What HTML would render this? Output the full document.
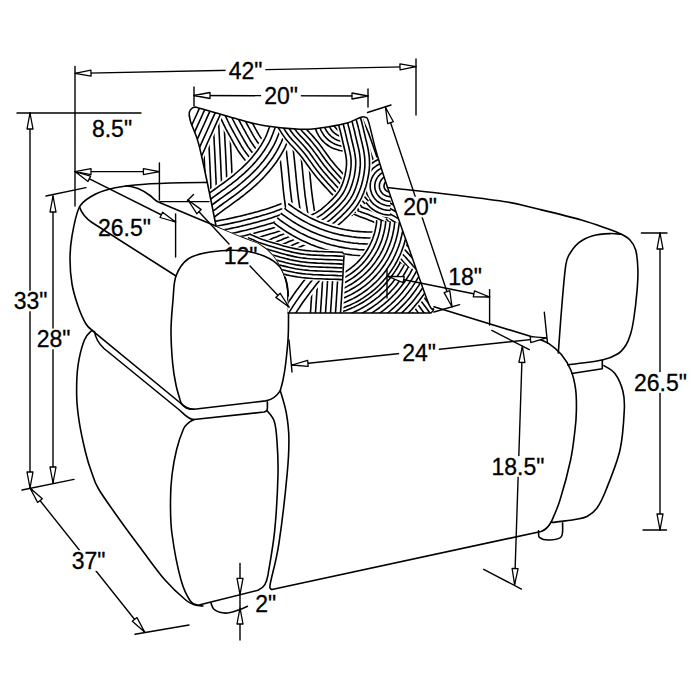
<!DOCTYPE html>
<html><head><meta charset="utf-8"><style>
html,body{margin:0;padding:0;background:#fff;}
svg{display:block;}
path{fill:none;stroke:#000;stroke-linecap:round;stroke-linejoin:round;}
path.ah{fill:#fff;stroke-width:1.3;}
path.bf{fill:#fff;stroke:none;}
path.bl{fill:none;stroke:#000;}
text{font-family:"Liberation Sans",sans-serif;text-anchor:middle;fill:#000;stroke:#000;stroke-width:0.3px;}
</style></head><body>
<svg width="700" height="700" viewBox="0 0 700 700">
<rect width="700" height="700" fill="#fff"/>
<path d="M93,331 C91.8,329.8 88.5,328.2 86,324 C83.5,319.8 80.3,312.7 78,306 C75.7,299.3 73.3,291.8 72,284 C70.7,276.2 70,267 70,259 C70,251 70.5,244.5 72,236 C73.5,227.5 75.7,214.7 79,208 C82.3,201.3 86.8,199.2 92,196 C97.2,192.8 102.8,190.8 110,189 C117.2,187.2 125,186 135,185 C145,184 157.7,183.4 170,183 C182.3,182.6 202.5,182.5 209,182.4" stroke-width="1.6"/>
<path d="M126,185.8 C137,186.5 144,191 150,195.5 C154,198.5 155.5,201.5 159.5,202.5 L200,219.5 L200,219.5 C206.7,222.2 230,231.9 240,236 C250,240.1 254.3,240.7 260,244 C265.7,247.3 270,251 274,256 C278,261 281.7,268 284,274 C286.3,280 287.2,284.3 288,292 C288.8,299.7 288.5,312 288.5,320 C288.5,328 288.5,332.5 288,340 C287.5,347.5 286.3,358.3 285.5,365 C284.7,371.7 283.9,375.7 283,380 C282.1,384.3 280.8,388.8 280.3,390.6" stroke-width="1.6"/>
<path d="M288,300 C287.8,297.3 288.3,289.5 287,284 C285.7,278.5 283.8,271.7 280,267 C276.2,262.3 270.7,258.8 264,256 C257.3,253.2 249,251.2 240,250.5 C231,249.8 218.7,250.6 210,252 C201.3,253.4 193.7,255 188,259 C182.3,263 178.5,269.2 176,276 C173.5,282.8 173.8,291 173,300 C172.2,309 171.1,319.5 171,330 C170.9,340.5 171.8,353.7 172.6,362.9 C173.4,372.1 174.6,378.3 176,385 C177.4,391.7 180.2,400 181,403" stroke-width="1.6"/>
<path d="M79.5,207 C82,214 86,218.5 92,222.5 L176,276" stroke-width="1.6"/>
<path d="M160,201.6 L209,201.6" stroke-width="1.4"/>
<path d="M92,330.3 L181,403.5 C185,407 188,409.3 194,409.3 L265.7,400.9 C271,400 276,397.4 280.3,390.6" stroke-width="1.6"/>
<path d="M181,403 C183,406.5 187,409.3 194,409.3" stroke-width="1.6"/>
<path d="M94.5,331.5 C95.5,338 98,343 104,348.5 L180,410.5 C184,414 188,419.5 194,419.5 L264,412 C266.5,411.5 267.4,410 267.4,408 L267.4,401.7" stroke-width="1.6"/>
<path d="M92,330.3 C90.7,331.9 86.7,334.1 84.4,340 C82.1,345.9 79.3,356.3 78,365.7 C76.7,375.1 76.5,387.2 76.7,396.6 C76.9,406 77.8,412.9 79.3,422.3 C80.8,431.7 83.7,444.7 85.7,453 C87.7,461.3 89.3,466 91.5,472 C93.7,478 93.9,481 98.6,489 C103.3,497 112.7,509.8 119.9,520 C127.1,530.2 134.5,540 142,550 C149.5,560 157.7,571.7 165,580 C172.3,588.3 180.7,595.8 185.7,600 C190.7,604.2 192.1,604 195,605 C197.9,606 201.7,605.8 203,606" stroke-width="1.6"/>
<path d="M194,419.5 C193.1,420.1 190.2,421.2 188.5,422.8 C186.8,424.4 185.5,424.5 183.5,429 C181.5,433.5 178.4,442.3 176.5,450 C174.6,457.7 173,466.7 172,475 C171,483.3 170.5,490.2 170.5,500 C170.5,509.8 170.2,520.7 172,534 C173.8,547.3 177.9,568.8 181,580 C184.1,591.2 187.5,596.8 190.3,601 C193.1,605.2 196.7,604.6 198,605.3 L258,590.3 C264.5,587.5 266.5,583 268,574.9 L268,574.9 C269.1,567.6 272.9,548.2 274.6,531.4 C276.3,514.6 277.6,489.5 278,474.3 C278.4,459.1 277.5,448.8 276.9,440 C276.3,431.2 275.9,426.2 274.3,421.4 C272.7,416.6 268.5,412.7 267.4,411" stroke-width="1.6"/>
<path d="M280.3,390.6 C281.3,394.3 284.9,404.9 286.3,412.9 C287.7,420.9 288.8,428.4 288.9,438.6 C289,448.8 288.8,456.9 287.1,474.3 C285.5,491.7 281.6,525.6 279,542.9 C276.4,560.2 272.8,572.1 271.5,578 C270,585 268.5,589 272,589.5" stroke-width="1.6"/>
<path d="M272,589.5 L541,531.5 C545.5,530.2 549,526 551.5,521.5" stroke-width="1.6"/>
<path d="M551.5,521.5 C552.9,517.9 556.8,510.2 560,500 C563.2,489.8 568.1,471.7 570.6,460 C573.1,448.3 574,438.3 575,430 C576,421.7 576.3,416.8 576.4,410 C576.5,403.2 576.5,395.8 575.6,389.2 C574.7,382.6 573.3,376.1 570.9,370.3 C568.5,364.5 565.1,359.1 561.4,354.6 C557.7,350.2 553.1,346.4 548.9,343.6 C544.7,340.8 538.1,338.9 536,338" stroke-width="1.6"/>
<path d="M434,306.8 L536,338" stroke-width="1.6"/>
<path d="M211,603 C211.6,604.1 211.9,608 214.3,609.7 C216.8,611.4 221.5,613.1 225.7,613.1 C229.9,613.1 235.8,610.8 239.4,609.7 C243,608.6 246.1,606.9 247.4,606.3" stroke-width="1.6"/>
<path d="M538.6,530.9 C538.8,532 537.8,536.2 539.7,537.7 C541.6,539.2 546.4,540.2 550,540 C553.6,539.8 559.3,539.5 561.4,536.6 C563.5,533.8 562.4,525.2 562.6,522.9" stroke-width="1.6"/>
<path d="M387,187.5 C389.2,187.8 389.5,187.8 400,189 C410.5,190.2 432.2,192.3 450,194.5 C467.8,196.7 492,199.5 507,202 C522,204.5 527.6,206.5 540,209.5 C552.4,212.5 570.2,216.8 581.4,220 C592.6,223.2 600.3,226.2 607,228.6 C613.7,231 617.6,232.4 621.4,234.3 C625.2,236.2 627.6,237.4 630,240 C632.4,242.6 634.4,245 635.7,250 C637,255 637.7,263.1 637.9,270 C638.1,276.9 637.7,283.1 637,291.4 C636.3,299.7 634.7,312.9 633.6,320 C632.5,327.1 631.9,329.8 630.6,334 C629.3,338.2 628.1,341.7 626,345 C623.9,348.3 622,351.3 618,353.8 C614,356.3 610.7,358.2 602.3,360 C593.9,361.8 573.5,364 567.7,364.8" stroke-width="1.6"/>
<path d="M621.4,234.3 C619.5,234.2 614.8,233.4 610,233.6 C605.2,233.8 598.1,234.1 592.9,235.7 C587.7,237.2 582.6,239.6 578.6,242.9 C574.6,246.2 570.8,251.9 568.6,255.7 C566.5,259.5 566.6,259.6 565.7,265.7 C564.8,271.8 563.8,282.9 563,292 C562.2,301.1 561.5,309.8 560.7,320 C559.9,330.2 558.7,347.5 558.3,353" stroke-width="1.6"/>
<path d="M602.3,360 L602.3,368.7 L571.7,373.5" stroke-width="1.6"/>
<path d="M603.9,365.6 C605.7,366.9 611.8,369.3 614.9,373.5 C618,377.7 621.2,384.7 622.8,390.8 C624.4,396.9 624.8,400.1 624.3,410 C623.8,419.9 623,436.7 620,450 C617,463.3 609.8,480.3 606,490 C602.2,499.7 600.2,503.6 597,508 C593.8,512.4 590.7,514.6 587,516.5 C583.3,518.4 580.8,518.5 575,519.5 C569.2,520.5 555.8,522 552,522.5" stroke-width="1.6"/>
<defs><clipPath id="pc"><path d="M189.4,116 C188.5,111 191,107.5 195.4,107 L195.4,107 C202.8,109.1 228.4,116.7 240,119.8 C251.6,122.9 255,124.1 265,125.7 C275,127.3 290.8,128.8 300,129.2 C309.2,129.6 312.5,128.9 320,128 C327.5,127.1 338.2,125.4 345,123.6 C351.8,121.8 357.6,118.2 361,117.2 C364.4,116.2 364.2,116.8 365.5,117.5 C366.8,118.2 366.6,115.6 368.5,121.5 C370.4,127.4 373.2,141.5 376.6,153 C380,164.5 383.7,176.1 388.6,190.6 C393.5,205.1 399.4,221.4 406,240 C412.6,258.6 423.4,290.5 428,302 C432.6,313.5 433,307.2 433.5,309 C434,310.8 431.4,312.3 431,313 L288,313 L288,313 C288,309.5 288.7,298.5 288,292 C287.3,285.5 286.3,280 284,274 C281.7,268 278,261 274,256 C270,251 265.7,247.3 260,244 C254.3,240.7 247.3,239 240,236 C232.7,233 220,227.7 216,226 L216,226 C214.7,219.3 210.9,199.7 208,186 C205.1,172.3 201.4,154.1 198.6,143.6 C195.8,133.1 192.5,127.6 191,123 C189.5,118.4 189.7,117.2 189.4,116 Z"/></clipPath></defs>
<g clip-path="url(#pc)"><path class="bf" d="M371.4,168.3 L370.8,170.7 L370.3,172.9 L369.8,175.4 L369.3,177.9 L368.8,180.6 L368.3,183.4 L367.6,186.2 L366.9,189.2 L366,192.2 L365,195.3 L363.7,198.4 L362.2,201.5 L360.5,204.3 L358.8,207 L357,209.6 L355,212 L353.1,214.3 L351.1,216.5 L349,218.5 L346.9,220.5 L344.9,222.4 L342.8,224.3 L340.8,226 L338.7,227.7 L336.6,229.4 L334.3,231.1 L332.1,232.6 L329.9,234.1 L327.6,235.5 L325.4,236.9 L323.1,238.2 L320.8,239.4 L318.4,240.7 L316.1,241.9 L313.7,243.1 L311.1,244.4 L308.4,245.7 L305.5,247.1 L302.5,248.4 L299.5,249.7 L296.5,251 L293.4,252.2 L290.3,253.5 L287.3,254.8 L284.2,256 L281.2,257.2 L278.3,258.5 L275.4,259.7 L264.6,234.3 L267.6,233 L270.7,231.8 L273.7,230.5 L276.8,229.2 L279.8,228 L282.8,226.8 L285.8,225.5 L288.6,224.3 L291.4,223.1 L294,221.9 L296.5,220.8 L298.9,219.6 L301.2,218.4 L303.5,217.3 L305.7,216.2 L307.7,215.1 L309.7,214 L311.5,213 L313.3,212 L314.9,210.9 L316.6,209.8 L318.1,208.7 L319.7,207.6 L321.3,206.3 L323,204.9 L324.7,203.4 L326.4,201.9 L328,200.4 L329.6,198.9 L331.1,197.4 L332.5,195.9 L333.8,194.4 L335,192.9 L336,191.4 L337,189.9 L337.8,188.5 L338.5,187.1 L339.1,185.6 L339.7,183.9 L340.2,182 L340.7,179.9 L341.2,177.6 L341.7,175.2 L342.2,172.7 L342.7,170 L343.3,167.2 L343.9,164.4 L344.6,161.7 Z"/><path class="bl" d="M369.2,167.8 L368.6,170.2 L368.1,172.5 L367.6,174.9 L367.1,177.5 L366.6,180.1 L366,182.9 L365.4,185.7 L364.7,188.6 L363.8,191.5 L362.8,194.5 L361.6,197.5 L360.2,200.4 L358.6,203.1 L356.9,205.7 L355.1,208.2 L353.3,210.5 L351.4,212.7 L349.4,214.9 L347.4,216.9 L345.4,218.9 L343.3,220.7 L341.3,222.5 L339.3,224.2 L337.3,225.9 L335.2,227.6 L333,229.2 L330.8,230.7 L328.6,232.2 L326.4,233.6 L324.2,234.9 L322,236.2 L319.7,237.4 L317.4,238.6 L315,239.8 L312.6,241 L310.1,242.3 L307.4,243.6 L304.5,245 L301.6,246.3 L298.6,247.6 L295.6,248.9 L292.5,250.1 L289.5,251.4 L286.4,252.6 L283.4,253.9 L280.3,255.1 L277.4,256.4 L274.5,257.6M364.7,166.7 L364.1,169.1 L363.6,171.5 L363.1,174 L362.6,176.6 L362,179.2 L361.5,181.9 L360.9,184.6 L360.2,187.4 L359.4,190.1 L358.5,192.9 L357.4,195.6 L356.1,198.2 L354.7,200.7 L353.1,203.1 L351.5,205.4 L349.7,207.6 L347.9,209.7 L346.1,211.7 L344.1,213.6 L342.2,215.5 L340.2,217.3 L338.3,219 L336.3,220.7 L334.4,222.4 L332.3,224 L330.3,225.5 L328.2,226.9 L326.1,228.3 L324,229.6 L321.9,230.9 L319.7,232.1 L317.5,233.3 L315.3,234.5 L312.9,235.7 L310.6,236.9 L308.1,238.2 L305.4,239.5 L302.6,240.8 L299.7,242.1 L296.8,243.3 L293.8,244.6 L290.8,245.9 L287.7,247.1 L284.7,248.4 L281.6,249.6 L278.6,250.9 L275.6,252.1 L272.7,253.4M360.2,165.6 L359.6,168.1 L359.1,170.6 L358.5,173.1 L358,175.7 L357.5,178.4 L357,181 L356.4,183.6 L355.8,186.2 L355,188.8 L354.2,191.3 L353.2,193.7 L352,196.1 L350.7,198.3 L349.3,200.5 L347.8,202.6 L346.2,204.7 L344.5,206.6 L342.7,208.5 L340.9,210.4 L339.1,212.2 L337.2,213.9 L335.3,215.6 L333.4,217.2 L331.5,218.8 L329.5,220.3 L327.6,221.8 L325.6,223.1 L323.7,224.5 L321.6,225.7 L319.6,226.9 L317.5,228.1 L315.3,229.3 L313.1,230.5 L310.8,231.6 L308.5,232.8 L306,234.1 L303.4,235.3 L300.7,236.6 L297.9,237.9 L295,239.1 L292,240.4 L289,241.6 L286,242.9 L282.9,244.1 L279.9,245.4 L276.8,246.6 L273.8,247.9 L270.9,249.1M355.8,164.4 L355.1,167 L354.6,169.6 L354,172.2 L353.5,174.9 L353,177.5 L352.5,180 L351.9,182.5 L351.3,185 L350.6,187.4 L349.9,189.7 L349,191.8 L348,193.9 L346.8,195.9 L345.5,197.9 L344.1,199.8 L342.6,201.7 L341.1,203.6 L339.4,205.4 L337.7,207.1 L335.9,208.8 L334.1,210.5 L332.3,212.1 L330.4,213.7 L328.5,215.2 L326.7,216.7 L324.9,218 L323,219.3 L321.2,220.6 L319.2,221.8 L317.3,222.9 L315.3,224.1 L313.2,225.2 L311,226.4 L308.8,227.5 L306.4,228.7 L304,229.9 L301.4,231.2 L298.8,232.4 L296,233.6 L293.2,234.9 L290.2,236.1 L287.2,237.4 L284.2,238.6 L281.2,239.9 L278.1,241.1 L275.1,242.4 L272.1,243.6 L269.1,244.9M351.3,163.3 L350.7,165.9 L350.1,168.7 L349.5,171.4 L349,174 L348.5,176.6 L348,179.1 L347.5,181.5 L346.9,183.8 L346.3,186 L345.6,188.1 L344.8,190 L343.9,191.8 L342.9,193.5 L341.7,195.3 L340.5,197.1 L339.1,198.8 L337.6,200.5 L336.1,202.2 L334.4,203.8 L332.8,205.5 L331,207.1 L329.2,208.6 L327.4,210.2 L325.6,211.6 L323.9,213 L322.2,214.3 L320.4,215.5 L318.7,216.7 L316.9,217.9 L315,219 L313,220.1 L311,221.2 L308.9,222.3 L306.7,223.4 L304.3,224.6 L301.9,225.8 L299.5,227 L296.9,228.2 L294.2,229.4 L291.4,230.7 L288.5,231.9 L285.5,233.1 L282.5,234.4 L279.4,235.6 L276.4,236.9 L273.3,238.1 L270.3,239.4 L267.3,240.6M346.8,162.2 L346.2,164.9 L345.6,167.7 L345,170.5 L344.5,173.1 L344,175.7 L343.5,178.1 L343,180.4 L342.4,182.6 L341.9,184.6 L341.3,186.4 L340.6,188.1 L339.8,189.6 L339,191.1 L337.9,192.7 L336.8,194.3 L335.5,195.9 L334.2,197.4 L332.7,199 L331.2,200.6 L329.6,202.1 L327.9,203.6 L326.2,205.1 L324.5,206.6 L322.7,208.1 L321.1,209.4 L319.5,210.6 L317.9,211.7 L316.2,212.8 L314.5,213.9 L312.7,215 L310.8,216.1 L308.8,217.1 L306.8,218.2 L304.6,219.3 L302.3,220.5 L299.9,221.7 L297.5,222.9 L295,224 L292.3,225.2 L289.5,226.4 L286.7,227.6 L283.7,228.9 L280.7,230.1 L277.7,231.4 L274.6,232.6 L271.5,233.9 L268.5,235.1 L265.5,236.4" stroke-width="1.6"/>
<path class="bf" d="M202.1,221.3 L205,220.7 L208,220.1 L211,219.5 L214,219 L217,218.4 L220,217.8 L222.9,217.3 L225.8,216.7 L228.6,216.1 L231.3,215.6 L234,215 L236.6,214.4 L239.2,213.8 L241.8,213.1 L244.4,212.5 L247,211.9 L249.5,211.2 L251.9,210.6 L254.4,209.9 L256.7,209.3 L259,208.6 L261.3,208 L263.5,207.3 L265.6,206.7 L267.5,206.1 L269.3,205.5 L271.1,204.8 L272.8,204.2 L274.5,203.6 L276.2,203 L277.8,202.3 L279.6,201.7 L281.3,201 L283.1,200.3 L284.9,199.6 L286.8,198.9 L297.2,227.1 L295.4,227.7 L293.8,228.4 L292.1,229 L290.4,229.7 L288.6,230.3 L286.8,231 L285,231.7 L283,232.4 L281,233.2 L278.9,233.9 L276.7,234.6 L274.4,235.3 L272.1,236 L269.7,236.7 L267.3,237.4 L264.8,238.1 L262.3,238.9 L259.7,239.6 L257.1,240.3 L254.4,240.9 L251.7,241.6 L248.9,242.3 L246.2,243 L243.4,243.6 L240.5,244.3 L237.6,244.9 L234.6,245.5 L231.6,246.1 L228.7,246.7 L225.7,247.3 L222.7,247.9 L219.7,248.4 L216.7,249 L213.7,249.6 L210.8,250.1 L207.9,250.7 Z"/><path class="bl" d="M202.6,223.7 L205.5,223.2 L208.5,222.6 L211.5,222 L214.5,221.4 L217.5,220.9 L220.4,220.3 L223.4,219.7 L226.2,219.2 L229.1,218.6 L231.9,218 L234.6,217.4 L237.2,216.8 L239.8,216.2 L242.4,215.6 L245,214.9 L247.6,214.3 L250.1,213.6 L252.6,213 L255,212.3 L257.4,211.7 L259.7,211 L262,210.3 L264.2,209.7 L266.3,209.1 L268.3,208.4 L270.1,207.8 L271.9,207.2 L273.7,206.6 L275.4,206 L277.1,205.3 L278.7,204.7 L280.5,204 L282.2,203.3 L284,202.7 L285.8,202 L287.7,201.3M203.5,228.6 L206.5,228.1 L209.5,227.5 L212.5,226.9 L215.4,226.3 L218.4,225.8 L221.4,225.2 L224.3,224.6 L227.2,224.1 L230.1,223.5 L232.9,222.9 L235.6,222.3 L238.3,221.7 L241,221.1 L243.6,220.4 L246.2,219.8 L248.8,219.1 L251.4,218.5 L253.9,217.8 L256.3,217.1 L258.8,216.5 L261.1,215.8 L263.4,215.1 L265.6,214.5 L267.8,213.8 L269.8,213.2 L271.7,212.6 L273.6,211.9 L275.4,211.3 L277.1,210.6 L278.8,210 L280.5,209.3 L282.3,208.7 L284,208 L285.8,207.3 L287.6,206.6 L289.4,206M204.5,233.5 L207.5,233 L210.4,232.4 L213.4,231.8 L216.4,231.2 L219.4,230.7 L222.3,230.1 L225.3,229.5 L228.2,229 L231.1,228.4 L233.9,227.8 L236.7,227.2 L239.4,226.6 L242.1,225.9 L244.8,225.3 L247.4,224.6 L250,224 L252.6,223.3 L255.2,222.6 L257.7,222 L260.1,221.3 L262.5,220.6 L264.8,219.9 L267.1,219.3 L269.3,218.6 L271.3,218 L273.3,217.3 L275.2,216.6 L277.1,216 L278.9,215.3 L280.6,214.7 L282.3,214 L284.1,213.3 L285.8,212.7 L287.5,212 L289.3,211.3 L291.1,210.7M205.5,238.5 L208.4,237.9 L211.4,237.3 L214.3,236.7 L217.3,236.2 L220.3,235.6 L223.3,235 L226.3,234.4 L229.2,233.9 L232.1,233.3 L235,232.7 L237.8,232.1 L240.6,231.4 L243.3,230.8 L246,230.2 L248.6,229.5 L251.3,228.8 L253.9,228.2 L256.5,227.5 L259,226.8 L261.5,226.1 L263.9,225.4 L266.2,224.7 L268.5,224.1 L270.7,223.4 L272.9,222.7 L274.9,222 L276.9,221.4 L278.8,220.7 L280.6,220 L282.4,219.3 L284.1,218.7 L285.9,218 L287.6,217.3 L289.3,216.7 L291.1,216 L292.9,215.3M206.5,243.4 L209.4,242.8 L212.3,242.2 L215.3,241.6 L218.3,241.1 L221.2,240.5 L224.2,239.9 L227.2,239.3 L230.2,238.8 L233.1,238.2 L236,237.6 L238.9,236.9 L241.7,236.3 L244.4,235.7 L247.2,235 L249.9,234.3 L252.5,233.7 L255.2,233 L257.8,232.3 L260.3,231.6 L262.8,230.9 L265.2,230.2 L267.6,229.5 L270,228.9 L272.2,228.2 L274.4,227.5 L276.5,226.8 L278.5,226.1 L280.5,225.4 L282.4,224.7 L284.2,224 L285.9,223.3 L287.7,222.7 L289.4,222 L291.1,221.3 L292.8,220.7 L294.6,220M207.4,248.3 L210.3,247.7 L213.3,247.1 L216.2,246.6 L219.2,246 L222.2,245.4 L225.2,244.8 L228.2,244.3 L231.2,243.7 L234.1,243.1 L237.1,242.5 L240,241.8 L242.8,241.2 L245.6,240.5 L248.3,239.9 L251.1,239.2 L253.8,238.5 L256.4,237.8 L259,237.1 L261.6,236.4 L264.1,235.7 L266.6,235 L269,234.3 L271.4,233.6 L273.7,232.9 L276,232.2 L278.1,231.5 L280.2,230.8 L282.2,230.1 L284.1,229.4 L285.9,228.7 L287.7,228 L289.5,227.3 L291.2,226.7 L292.9,226 L294.6,225.4 L296.3,224.7" stroke-width="1.6"/>
<path class="bf" d="M307.4,118.1 L307.8,121.7 L308.2,125.4 L308.6,129.1 L309,132.8 L309.4,136.6 L309.8,140.3 L310.2,144 L310.6,147.6 L311,151.1 L311.4,154.6 L311.8,157.9 L312.1,161.2 L312.4,164.3 L312.7,167.3 L313,170.2 L313.3,173 L313.6,175.7 L313.8,178.3 L314.1,180.9 L314.3,183.3 L314.6,185.8 L314.8,188.2 L315.1,190.5 L315.4,192.9 L315.7,195.2 L316,197.4 L316.3,199.6 L316.6,201.8 L316.9,204 L317.3,206.1 L317.6,208.3 L317.9,210.5 L318.3,212.7 L318.6,214.9 L319,217.1 L319.3,219.4 L284.7,224.6 L284.4,222.4 L284,220.2 L283.7,218.1 L283.4,215.9 L283,213.7 L282.7,211.5 L282.3,209.2 L282,206.9 L281.6,204.6 L281.3,202.2 L281,199.7 L280.6,197.1 L280.3,194.6 L280,192 L279.8,189.4 L279.5,186.9 L279.2,184.3 L279,181.7 L278.7,179.1 L278.5,176.4 L278.2,173.6 L277.9,170.8 L277.6,167.9 L277.3,164.8 L277,161.7 L276.6,158.4 L276.2,154.9 L275.8,151.4 L275.4,147.8 L275,144.1 L274.6,140.4 L274.2,136.7 L273.8,132.9 L273.4,129.2 L273,125.5 L272.6,121.9 Z"/><path class="bl" d="M303.9,118.5 L304.3,122.1 L304.7,125.8 L305.1,129.5 L305.5,133.2 L305.9,136.9 L306.4,140.7 L306.8,144.3 L307.2,148 L307.5,151.5 L307.9,155 L308.3,158.3 L308.6,161.5 L308.9,164.6 L309.3,167.6 L309.5,170.5 L309.8,173.3 L310.1,176 L310.3,178.6 L310.6,181.2 L310.8,183.7 L311.1,186.1 L311.3,188.5 L311.6,190.9 L311.9,193.3 L312.2,195.6 L312.5,197.9 L312.8,200.1 L313.1,202.3 L313.5,204.5 L313.8,206.7 L314.1,208.8 L314.5,211 L314.8,213.2 L315.2,215.4 L315.5,217.7 L315.8,219.9M297,119.2 L297.4,122.9 L297.8,126.5 L298.2,130.2 L298.6,134 L299,137.7 L299.4,141.4 L299.8,145.1 L300.2,148.7 L300.6,152.3 L301,155.7 L301.3,159.1 L301.7,162.3 L302,165.3 L302.3,168.3 L302.6,171.2 L302.8,174 L303.1,176.7 L303.4,179.3 L303.6,181.9 L303.9,184.4 L304.1,186.9 L304.4,189.3 L304.7,191.7 L304.9,194.1 L305.2,196.5 L305.6,198.8 L305.9,201.1 L306.2,203.3 L306.5,205.6 L306.9,207.7 L307.2,209.9 L307.6,212.1 L307.9,214.3 L308.2,216.5 L308.6,218.7 L308.9,221M290,120 L290.4,123.6 L290.8,127.3 L291.2,131 L291.6,134.7 L292,138.5 L292.4,142.2 L292.8,145.9 L293.2,149.5 L293.6,153 L294,156.5 L294.4,159.8 L294.7,163 L295,166.1 L295.3,169 L295.6,171.9 L295.9,174.7 L296.1,177.4 L296.4,180 L296.6,182.6 L296.9,185.1 L297.2,187.6 L297.4,190.1 L297.7,192.5 L298,195 L298.3,197.4 L298.6,199.8 L299,202.1 L299.3,204.4 L299.6,206.6 L300,208.8 L300.3,211 L300.6,213.2 L301,215.4 L301.3,217.6 L301.7,219.8 L302,222M283,120.8 L283.4,124.4 L283.8,128.1 L284.2,131.8 L284.7,135.5 L285.1,139.2 L285.5,143 L285.9,146.6 L286.3,150.2 L286.7,153.8 L287,157.2 L287.4,160.6 L287.7,163.7 L288.1,166.8 L288.4,169.7 L288.6,172.6 L288.9,175.3 L289.2,178 L289.4,180.7 L289.7,183.3 L289.9,185.8 L290.2,188.3 L290.5,190.9 L290.8,193.4 L291.1,195.9 L291.4,198.3 L291.7,200.7 L292,203.1 L292.4,205.4 L292.7,207.7 L293,209.9 L293.4,212.1 L293.7,214.3 L294.1,216.4 L294.4,218.6 L294.7,220.8 L295.1,223M276.1,121.5 L276.5,125.1 L276.9,128.8 L277.3,132.5 L277.7,136.3 L278.1,140 L278.5,143.7 L278.9,147.4 L279.3,151 L279.7,154.5 L280.1,158 L280.4,161.3 L280.8,164.5 L281.1,167.5 L281.4,170.4 L281.7,173.3 L281.9,176 L282.2,178.7 L282.5,181.4 L282.7,184 L283,186.5 L283.2,189.1 L283.5,191.6 L283.8,194.2 L284.1,196.7 L284.4,199.2 L284.8,201.7 L285.1,204.1 L285.4,206.4 L285.8,208.7 L286.1,211 L286.5,213.2 L286.8,215.4 L287.2,217.5 L287.5,219.7 L287.8,221.9 L288.2,224.1" stroke-width="1.6"/>
<path class="bf" d="M349.4,124.8 L349,125 L348.7,125.1 L348.4,125.3 L348,125.4 L347.7,125.5 L347.3,125.6 L346.9,125.6 L346.6,125.7 L346.2,125.7 L345.9,125.7 L345.5,125.7 L345.1,125.6 L344.8,125.6 L344.4,125.5 L344.1,125.4 L343.7,125.3 L343.4,125.2 L343,125 L342.7,124.8 L342.4,124.7 L342.1,124.4 L341.8,124.2 L341.5,124 L341.3,123.7 L341,123.5 L340.8,123.2 L340.6,122.9 L340.3,122.6 L340.2,122.3 L340,122 L339.8,121.6 L339.7,121.3 L339.6,120.9 L339.5,120.6 L339.4,120.2 L339.4,119.9 L339.3,119.5 L339.3,119.1 L339.3,118.8 L339.3,118.4 L311.8,116 L311.7,117.9 L311.7,119.7 L311.8,121.6 L312,123.5 L312.3,125.3 L312.7,127.2 L313.2,129 L313.8,130.7 L314.5,132.5 L315.2,134.2 L316.1,135.8 L317.1,137.4 L318.1,139 L319.2,140.5 L320.5,141.9 L321.7,143.3 L323.1,144.5 L324.5,145.8 L326,146.9 L327.6,147.9 L329.2,148.9 L330.8,149.8 L332.5,150.5 L334.3,151.2 L336,151.8 L337.8,152.3 L339.7,152.7 L341.5,153 L343.4,153.2 L345.3,153.3 L347.1,153.3 L349,153.2 L350.8,153 L352.7,152.6 L354.5,152.2 L356.3,151.7 L358.1,151.1 L359.8,150.4 L361.5,149.6 L363.1,148.7 Z"/><path class="bl" d="M350.5,126.8 L350.1,127 L349.6,127.2 L349.2,127.4 L348.7,127.6 L348.2,127.7 L347.8,127.8 L347.3,127.9 L346.8,128 L346.3,128 L345.8,128 L345.3,128 L344.8,127.9 L344.3,127.8 L343.9,127.7 L343.4,127.6 L342.9,127.5 L342.5,127.3 L342,127.1 L341.6,126.8 L341.2,126.6 L340.8,126.3 L340.4,126 L340,125.7 L339.6,125.4 L339.3,125 L339,124.6 L338.7,124.2 L338.4,123.8 L338.2,123.4 L337.9,123 L337.7,122.5 L337.5,122.1 L337.4,121.6 L337.3,121.1 L337.2,120.7 L337.1,120.2 L337,119.7 L337,119.2 L337,118.7 L337,118.2M352.8,130.8 L352.1,131.1 L351.5,131.4 L350.8,131.7 L350.1,132 L349.4,132.2 L348.7,132.3 L347.9,132.5 L347.2,132.5 L346.4,132.6 L345.7,132.6 L345,132.6 L344.2,132.5 L343.5,132.4 L342.8,132.2 L342.1,132 L341.3,131.8 L340.7,131.5 L340,131.2 L339.3,130.9 L338.7,130.5 L338.1,130.1 L337.5,129.6 L336.9,129.1 L336.4,128.6 L335.9,128.1 L335.4,127.5 L334.9,126.9 L334.5,126.3 L334.1,125.7 L333.8,125 L333.5,124.3 L333.2,123.7 L333,122.9 L332.8,122.2 L332.6,121.5 L332.5,120.8 L332.4,120 L332.4,119.3 L332.4,118.6 L332.5,117.8M355.1,134.8 L354.2,135.2 L353.3,135.7 L352.4,136 L351.5,136.4 L350.5,136.6 L349.6,136.9 L348.6,137 L347.6,137.1 L346.6,137.2 L345.6,137.2 L344.6,137.1 L343.6,137 L342.6,136.9 L341.7,136.7 L340.7,136.4 L339.8,136.1 L338.9,135.7 L338,135.3 L337.1,134.9 L336.2,134.3 L335.4,133.8 L334.6,133.2 L333.9,132.6 L333.1,131.9 L332.4,131.1 L331.8,130.4 L331.2,129.6 L330.7,128.8 L330.1,127.9 L329.7,127 L329.3,126.1 L328.9,125.2 L328.6,124.3 L328.3,123.3 L328.1,122.4 L328,121.4 L327.9,120.4 L327.8,119.4 L327.8,118.4 L327.9,117.4M357.4,138.7 L356.3,139.3 L355.2,139.9 L354,140.3 L352.9,140.7 L351.7,141.1 L350.4,141.4 L349.2,141.6 L348,141.7 L346.7,141.8 L345.5,141.8 L344.3,141.7 L343,141.6 L341.8,141.4 L340.6,141.1 L339.4,140.8 L338.2,140.4 L337,140 L335.9,139.4 L334.8,138.9 L333.7,138.2 L332.7,137.5 L331.7,136.8 L330.8,136 L329.9,135.1 L329,134.2 L328.2,133.3 L327.5,132.3 L326.8,131.3 L326.1,130.2 L325.6,129.1 L325,128 L324.6,126.8 L324.2,125.6 L323.9,124.4 L323.6,123.2 L323.4,122 L323.3,120.7 L323.2,119.5 L323.2,118.3 L323.3,117M359.7,142.7 L358.4,143.4 L357,144.1 L355.7,144.6 L354.2,145.1 L352.8,145.5 L351.3,145.9 L349.9,146.1 L348.4,146.3 L346.9,146.4 L345.4,146.4 L343.9,146.3 L342.4,146.2 L340.9,145.9 L339.5,145.6 L338,145.2 L336.6,144.7 L335.2,144.2 L333.9,143.6 L332.6,142.9 L331.3,142.1 L330,141.3 L328.8,140.4 L327.7,139.4 L326.6,138.4 L325.6,137.3 L324.6,136.2 L323.7,135 L322.9,133.7 L322.1,132.4 L321.4,131.1 L320.8,129.8 L320.3,128.4 L319.8,127 L319.4,125.5 L319.1,124.1 L318.8,122.6 L318.7,121.1 L318.6,119.6 L318.6,118.1 L318.7,116.6M362,146.7 L360.5,147.5 L358.9,148.3 L357.3,148.9 L355.6,149.5 L353.9,150 L352.2,150.4 L350.5,150.7 L348.8,150.9 L347,151 L345.3,151 L343.6,150.9 L341.8,150.7 L340.1,150.5 L338.4,150.1 L336.7,149.6 L335.1,149.1 L333.4,148.4 L331.8,147.7 L330.3,146.9 L328.8,146 L327.4,145 L326,144 L324.6,142.8 L323.4,141.6 L322.2,140.4 L321,139 L320,137.6 L319,136.2 L318.1,134.7 L317.3,133.2 L316.6,131.6 L315.9,129.9 L315.4,128.3 L314.9,126.6 L314.5,124.9 L314.3,123.2 L314.1,121.4 L314,119.7 L314,118 L314.1,116.2" stroke-width="1.6"/>
<path class="bf" d="M355.3,186.6 L358.1,187.7 L361,188.8 L363.9,189.9 L366.9,191 L369.9,192.1 L372.9,193.3 L376,194.5 L379.1,195.7 L382.1,196.9 L385.2,198.2 L388.3,199.6 L391.4,201.1 L394.4,202.6 L397.3,204.2 L400.1,205.7 L402.8,207.4 L405.4,209 L408,210.6 L410.5,212.1 L412.9,213.7 L415.4,215.3 L417.7,216.8 L420.1,218.2 L422.5,219.7 L407.5,244.3 L405,242.7 L402.4,241.1 L399.9,239.6 L397.4,238 L395,236.4 L392.6,234.9 L390.3,233.5 L388,232.1 L385.6,230.7 L383.3,229.4 L381,228.1 L378.6,226.9 L376.2,225.8 L373.7,224.6 L371.1,223.5 L368.3,222.4 L365.6,221.3 L362.7,220.2 L359.8,219.1 L356.8,218 L353.8,216.9 L350.8,215.8 L347.7,214.6 L344.7,213.4 Z"/><path class="bl" d="M354.4,188.8 L357.3,190 L360.1,191.1 L363.1,192.2 L366,193.3 L369,194.4 L372.1,195.5 L375.1,196.7 L378.2,197.9 L381.2,199.1 L384.3,200.4 L387.3,201.8 L390.3,203.2 L393.2,204.7 L396.1,206.3 L398.9,207.8 L401.5,209.4 L404.2,211 L406.7,212.6 L409.2,214.2 L411.6,215.7 L414.1,217.3 L416.4,218.8 L418.8,220.3 L421.2,221.8M352.6,193.3 L355.5,194.4 L358.4,195.6 L361.4,196.7 L364.4,197.8 L367.4,198.9 L370.4,200 L373.4,201.2 L376.4,202.4 L379.4,203.6 L382.3,204.8 L385.3,206.2 L388.2,207.5 L391,209 L393.8,210.5 L396.5,212 L399.1,213.5 L401.6,215.1 L404.1,216.7 L406.6,218.2 L409.1,219.8 L411.5,221.3 L413.9,222.9 L416.3,224.4 L418.7,225.9M350.9,197.8 L353.8,198.9 L356.7,200 L359.7,201.2 L362.7,202.3 L365.7,203.4 L368.7,204.5 L371.6,205.6 L374.6,206.8 L377.5,208 L380.4,209.2 L383.3,210.5 L386.1,211.8 L388.8,213.2 L391.4,214.7 L394.1,216.1 L396.6,217.6 L399.1,219.2 L401.6,220.7 L404,222.3 L406.5,223.8 L408.9,225.4 L411.3,226.9 L413.8,228.4 L416.2,230M349.1,202.2 L352.1,203.4 L355,204.5 L358,205.7 L361,206.8 L364,207.9 L367,209 L369.9,210.1 L372.8,211.3 L375.7,212.4 L378.5,213.6 L381.3,214.9 L383.9,216.2 L386.6,217.5 L389.1,218.9 L391.7,220.3 L394.1,221.8 L396.6,223.3 L399,224.8 L401.5,226.3 L403.9,227.9 L406.3,229.4 L408.8,231 L411.3,232.5 L413.8,234M347.4,206.7 L350.3,207.9 L353.3,209 L356.3,210.1 L359.3,211.3 L362.3,212.4 L365.3,213.5 L368.2,214.6 L371,215.7 L373.8,216.9 L376.6,218 L379.2,219.2 L381.8,220.5 L384.3,221.7 L386.8,223.1 L389.3,224.5 L391.7,225.9 L394.1,227.3 L396.5,228.8 L398.9,230.4 L401.3,231.9 L403.8,233.5 L406.2,235 L408.7,236.6 L411.3,238.1M345.6,211.2 L348.6,212.3 L351.6,213.5 L354.7,214.6 L357.7,215.8 L360.6,216.9 L363.6,218 L366.4,219.1 L369.2,220.2 L372,221.3 L374.6,222.4 L377.2,223.6 L379.7,224.8 L382.1,226 L384.5,227.3 L386.8,228.6 L389.2,230 L391.6,231.4 L393.9,232.9 L396.3,234.4 L398.7,236 L401.2,237.5 L403.7,239.1 L406.2,240.7 L408.8,242.2" stroke-width="1.6"/>
<path class="bf" d="M358.2,104.3 L359.2,106.5 L360.2,108.8 L361.2,111 L362.3,113.2 L363.3,115.4 L364.3,117.7 L365.3,120 L366.4,122.3 L367.4,124.6 L368.4,126.9 L369.4,129.3 L370.4,131.7 L371.3,134.1 L372.3,136.6 L373.2,139.2 L374.1,141.7 L374.9,144.2 L375.8,146.7 L376.6,149.2 L377.4,151.5 L378.2,153.8 L378.9,155.9 L379.7,157.9 L380.4,159.7 L381,161.3 L381.7,162.9 L382.3,164.3 L383,165.7 L383.6,166.9 L384.2,168.2 L384.8,169.4 L385.4,170.7 L386.1,172 L386.8,173.3 L387.4,174.7 L388.1,176.1 L371.9,183.9 L371.2,182.5 L370.6,181.3 L370,180 L369.4,178.8 L368.7,177.5 L368.1,176.2 L367.4,174.8 L366.7,173.3 L365.9,171.7 L365.2,170.1 L364.4,168.3 L363.6,166.3 L362.8,164.2 L362,162 L361.2,159.7 L360.4,157.4 L359.6,155 L358.7,152.5 L357.9,150.1 L357.1,147.6 L356.2,145.2 L355.4,142.8 L354.5,140.5 L353.6,138.3 L352.8,136.2 L351.8,134 L350.9,131.8 L349.9,129.6 L348.9,127.4 L347.9,125.2 L346.9,122.9 L345.9,120.7 L344.9,118.5 L343.8,116.2 L342.8,113.9 L341.8,111.7 Z"/><path class="bl" d="M356.2,105.2 L357.2,107.5 L358.2,109.7 L359.2,111.9 L360.2,114.1 L361.2,116.4 L362.3,118.6 L363.3,120.9 L364.3,123.2 L365.3,125.5 L366.3,127.8 L367.3,130.1 L368.3,132.5 L369.2,134.9 L370.1,137.4 L371,139.9 L371.9,142.5 L372.8,145 L373.6,147.5 L374.5,149.9 L375.3,152.3 L376.1,154.5 L376.8,156.7 L377.6,158.7 L378.3,160.5 L379,162.2 L379.6,163.8 L380.3,165.2 L380.9,166.6 L381.6,167.9 L382.2,169.2 L382.8,170.4 L383.4,171.7 L384.1,173 L384.7,174.3 L385.4,175.7 L386.1,177.1M352.1,107.1 L353.1,109.3 L354.1,111.6 L355.1,113.8 L356.1,116 L357.1,118.3 L358.2,120.5 L359.2,122.8 L360.2,125 L361.2,127.3 L362.2,129.6 L363.1,131.9 L364.1,134.2 L365,136.5 L365.9,139 L366.8,141.4 L367.7,143.9 L368.5,146.4 L369.4,148.9 L370.2,151.3 L371,153.7 L371.8,156 L372.6,158.2 L373.3,160.3 L374.1,162.2 L374.8,163.9 L375.5,165.6 L376.2,167.1 L376.9,168.5 L377.5,169.9 L378.1,171.2 L378.8,172.5 L379.4,173.7 L380.1,175 L380.7,176.3 L381.4,177.6 L382,179M347.9,108.9 L349,111.2 L350,113.4 L351,115.7 L352,117.9 L353.1,120.1 L354.1,122.4 L355.1,124.6 L356.1,126.8 L357.1,129.1 L358,131.3 L359,133.6 L359.9,135.8 L360.8,138.1 L361.7,140.5 L362.6,142.9 L363.4,145.4 L364.3,147.9 L365.1,150.3 L365.9,152.8 L366.8,155.2 L367.6,157.5 L368.4,159.7 L369.1,161.8 L369.9,163.8 L370.7,165.7 L371.4,167.4 L372.1,169 L372.8,170.4 L373.4,171.8 L374.1,173.2 L374.8,174.5 L375.4,175.8 L376,177 L376.7,178.3 L377.3,179.6 L378,181M343.8,110.8 L344.9,113 L345.9,115.3 L346.9,117.5 L347.9,119.8 L349,122 L350,124.2 L351,126.5 L352,128.7 L353,130.9 L353.9,133.1 L354.8,135.3 L355.7,137.5 L356.6,139.7 L357.5,142.1 L358.3,144.4 L359.2,146.9 L360,149.3 L360.9,151.8 L361.7,154.2 L362.5,156.6 L363.3,159 L364.1,161.3 L364.9,163.4 L365.7,165.5 L366.5,167.4 L367.3,169.2 L368,170.8 L368.7,172.4 L369.4,173.8 L370.1,175.2 L370.7,176.5 L371.4,177.8 L372,179 L372.6,180.3 L373.3,181.6 L373.9,182.9" stroke-width="1.6"/>
<path class="bf" d="M390,189.7 L389.7,189.7 L389.4,189.7 L389.1,189.6 L388.9,189.5 L388.6,189.4 L388.3,189.3 L388.1,189.2 L387.8,189 L387.6,188.8 L387.4,188.6 L387.2,188.4 L387,188.2 L386.8,187.9 L386.7,187.7 L386.6,187.4 L386.5,187.1 L386.4,186.9 L386.3,186.6 L386.3,186.3 L386.3,186 L386.3,185.7 L386.3,185.4 L386.4,185.1 L386.5,184.9 L386.6,184.6 L386.7,184.3 L386.8,184.1 L387,183.8 L387.2,183.6 L387.4,183.4 L387.6,183.2 L387.8,183 L388.1,182.8 L388.3,182.7 L388.6,182.6 L388.9,182.5 L389.1,182.4 L389.4,182.3 L389.7,182.3 L390,182.3 L390,154.7 L387.5,154.8 L385.1,155.1 L382.7,155.6 L380.3,156.2 L378,157.1 L375.8,158.1 L373.6,159.3 L371.6,160.7 L369.7,162.2 L367.9,163.9 L366.2,165.7 L364.7,167.6 L363.3,169.6 L362.1,171.8 L361.1,174 L360.2,176.3 L359.6,178.7 L359.1,181.1 L358.8,183.5 L358.7,186 L358.8,188.5 L359.1,190.9 L359.6,193.3 L360.2,195.7 L361.1,198 L362.1,200.2 L363.3,202.4 L364.7,204.4 L366.2,206.3 L367.9,208.1 L369.7,209.8 L371.6,211.3 L373.6,212.7 L375.8,213.9 L378,214.9 L380.3,215.8 L382.7,216.4 L385.1,216.9 L387.5,217.2 L390,217.3 Z"/><path class="bl" d="M390,192 L389.5,192 L389.1,191.9 L388.6,191.8 L388.1,191.7 L387.7,191.5 L387.3,191.3 L386.9,191.1 L386.5,190.9 L386.1,190.6 L385.8,190.2 L385.4,189.9 L385.1,189.5 L384.9,189.1 L384.7,188.7 L384.5,188.3 L384.3,187.9 L384.2,187.4 L384.1,186.9 L384,186.5 L384,186 L384,185.5 L384.1,185.1 L384.2,184.6 L384.3,184.1 L384.5,183.7 L384.7,183.3 L384.9,182.9 L385.1,182.5 L385.4,182.1 L385.8,181.8 L386.1,181.4 L386.5,181.1 L386.9,180.9 L387.3,180.7 L387.7,180.5 L388.1,180.3 L388.6,180.2 L389.1,180.1 L389.5,180 L390,180M390,196.6 L389.2,196.6 L388.3,196.5 L387.5,196.3 L386.7,196.1 L385.9,195.8 L385.2,195.4 L384.5,195 L383.8,194.6 L383.1,194.1 L382.5,193.5 L381.9,192.9 L381.4,192.2 L381,191.5 L380.6,190.8 L380.2,190.1 L379.9,189.3 L379.7,188.5 L379.5,187.7 L379.4,186.8 L379.4,186 L379.4,185.2 L379.5,184.3 L379.7,183.5 L379.9,182.7 L380.2,181.9 L380.6,181.2 L381,180.5 L381.4,179.8 L381.9,179.1 L382.5,178.5 L383.1,177.9 L383.8,177.4 L384.5,177 L385.2,176.6 L385.9,176.2 L386.7,175.9 L387.5,175.7 L388.3,175.5 L389.2,175.4 L390,175.4M390,201.2 L388.8,201.2 L387.6,201 L386.5,200.8 L385.3,200.5 L384.2,200 L383.1,199.5 L382.1,199 L381.1,198.3 L380.1,197.6 L379.3,196.7 L378.4,195.9 L377.7,194.9 L377,193.9 L376.5,192.9 L376,191.8 L375.5,190.7 L375.2,189.5 L375,188.4 L374.8,187.2 L374.8,186 L374.8,184.8 L375,183.6 L375.2,182.5 L375.5,181.3 L376,180.2 L376.5,179.1 L377,178.1 L377.7,177.1 L378.4,176.1 L379.3,175.3 L380.1,174.4 L381.1,173.7 L382.1,173 L383.1,172.5 L384.2,172 L385.3,171.5 L386.5,171.2 L387.6,171 L388.8,170.8 L390,170.8M390,205.8 L388.4,205.7 L386.9,205.6 L385.4,205.3 L383.9,204.8 L382.4,204.3 L381,203.6 L379.7,202.9 L378.4,202 L377.1,201.1 L376,200 L374.9,198.9 L374,197.6 L373.1,196.3 L372.4,195 L371.7,193.6 L371.2,192.1 L370.7,190.6 L370.4,189.1 L370.3,187.6 L370.2,186 L370.3,184.4 L370.4,182.9 L370.7,181.4 L371.2,179.9 L371.7,178.4 L372.4,177 L373.1,175.7 L374,174.4 L374.9,173.1 L376,172 L377.1,170.9 L378.4,170 L379.7,169.1 L381,168.4 L382.4,167.7 L383.9,167.2 L385.4,166.7 L386.9,166.4 L388.4,166.3 L390,166.2M390,210.4 L388.1,210.3 L386.2,210.1 L384.3,209.7 L382.5,209.2 L380.7,208.5 L378.9,207.7 L377.3,206.8 L375.7,205.7 L374.2,204.6 L372.7,203.3 L371.4,201.8 L370.3,200.3 L369.2,198.7 L368.3,197.1 L367.5,195.3 L366.8,193.5 L366.3,191.7 L365.9,189.8 L365.7,187.9 L365.6,186 L365.7,184.1 L365.9,182.2 L366.3,180.3 L366.8,178.5 L367.5,176.7 L368.3,174.9 L369.2,173.3 L370.3,171.7 L371.4,170.2 L372.7,168.7 L374.2,167.4 L375.7,166.3 L377.3,165.2 L378.9,164.3 L380.7,163.5 L382.5,162.8 L384.3,162.3 L386.2,161.9 L388.1,161.7 L390,161.6M390,215 L387.7,214.9 L385.5,214.6 L383.2,214.2 L381,213.6 L378.9,212.8 L376.8,211.8 L374.8,210.7 L373,209.5 L371.2,208.1 L369.5,206.5 L367.9,204.8 L366.5,203 L365.3,201.2 L364.2,199.2 L363.2,197.1 L362.4,195 L361.8,192.8 L361.4,190.5 L361.1,188.3 L361,186 L361.1,183.7 L361.4,181.5 L361.8,179.2 L362.4,177 L363.2,174.9 L364.2,172.8 L365.3,170.8 L366.5,169 L367.9,167.2 L369.5,165.5 L371.2,163.9 L373,162.5 L374.8,161.3 L376.8,160.2 L378.9,159.2 L381,158.4 L383.2,157.8 L385.5,157.4 L387.7,157.1 L390,157" stroke-width="1.6"/>
<path class="bf" d="M387.9,217.7 L390,219.7 L392.1,221.6 L394.2,223.6 L396.3,225.5 L398.4,227.5 L400.5,229.5 L402.6,231.5 L404.8,233.6 L406.9,235.6 L409.1,237.7 L411.2,239.9 L413.3,242 L415.4,244.2 L417.4,246.5 L419.4,248.7 L421.4,250.9 L423.4,253.1 L425.3,255.3 L427.2,257.6 L429.1,259.8 L431,261.9 L432.9,264.1 L434.7,266.3 L436.6,268.4 L419.4,283.6 L417.4,281.4 L415.5,279.2 L413.6,277 L411.7,274.8 L409.8,272.6 L407.9,270.4 L406.1,268.3 L404.2,266.1 L402.3,264 L400.5,262 L398.6,260 L396.7,258 L394.8,256 L392.8,254 L390.9,252.1 L388.8,250.1 L386.8,248.2 L384.7,246.2 L382.7,244.3 L380.6,242.3 L378.4,240.3 L376.3,238.4 L374.2,236.3 L372.1,234.3 Z"/><path class="bl" d="M386.4,219.3 L388.4,221.3 L390.5,223.3 L392.6,225.2 L394.7,227.2 L396.8,229.2 L398.9,231.2 L401.1,233.2 L403.2,235.2 L405.3,237.3 L407.4,239.4 L409.5,241.5 L411.6,243.6 L413.7,245.8 L415.7,248 L417.7,250.2 L419.7,252.4 L421.7,254.6 L423.6,256.8 L425.5,259.1 L427.4,261.3 L429.3,263.4 L431.1,265.6 L433,267.8 L434.9,269.9M383.2,222.7 L385.3,224.7 L387.3,226.6 L389.4,228.6 L391.5,230.6 L393.7,232.5 L395.8,234.5 L397.9,236.5 L400,238.5 L402.1,240.6 L404.2,242.6 L406.3,244.7 L408.3,246.8 L410.3,249 L412.3,251.1 L414.3,253.3 L416.3,255.5 L418.2,257.7 L420.1,259.9 L422,262.1 L423.9,264.3 L425.8,266.4 L427.7,268.6 L429.6,270.8 L431.5,273M380,226 L382.1,228 L384.2,230 L386.3,232 L388.4,233.9 L390.5,235.9 L392.6,237.9 L394.7,239.9 L396.8,241.9 L398.9,243.9 L400.9,245.9 L403,247.9 L405,250 L407,252.1 L408.9,254.2 L410.9,256.4 L412.8,258.5 L414.7,260.7 L416.6,262.9 L418.5,265.1 L420.4,267.3 L422.3,269.5 L424.2,271.6 L426.1,273.8 L428,276M376.8,229.3 L378.9,231.3 L381,233.3 L383.2,235.3 L385.3,237.3 L387.4,239.3 L389.5,241.2 L391.6,243.2 L393.6,245.2 L395.7,247.2 L397.7,249.1 L399.7,251.2 L401.7,253.2 L403.6,255.2 L405.6,257.3 L407.5,259.4 L409.4,261.6 L411.3,263.7 L413.1,265.9 L415,268.1 L416.9,270.3 L418.8,272.5 L420.7,274.7 L422.6,276.9 L424.5,279M373.6,232.7 L375.8,234.7 L377.9,236.7 L380,238.7 L382.1,240.6 L384.2,242.6 L386.3,244.6 L388.4,246.5 L390.4,248.5 L392.5,250.4 L394.5,252.4 L396.4,254.4 L398.4,256.4 L400.3,258.4 L402.2,260.4 L404,262.5 L405.9,264.6 L407.8,266.7 L409.7,268.9 L411.6,271.1 L413.4,273.3 L415.3,275.5 L417.2,277.7 L419.2,279.9 L421.1,282.1" stroke-width="1.6"/>
<path class="bf" d="M384.9,244.9 L387.4,247.4 L389.8,249.7 L392.3,252.1 L394.9,254.6 L397.4,257 L400,259.5 L402.7,262.1 L405.3,264.7 L408,267.4 L410.6,270.1 L413.2,273 L415.8,275.9 L418.4,278.9 L420.9,281.9 L423.3,284.9 L425.6,287.9 L427.8,290.8 L430,293.8 L432.2,296.7 L434.3,299.7 L436.4,302.5 L438.5,305.3 L440.6,308.1 L442.7,310.9 L413.3,333.1 L411.1,330.2 L408.9,327.2 L406.8,324.3 L404.6,321.4 L402.5,318.5 L400.5,315.7 L398.4,312.9 L396.4,310.2 L394.3,307.6 L392.3,305 L390.2,302.5 L388.2,300.1 L386,297.8 L383.9,295.4 L381.6,293.1 L379.3,290.7 L376.9,288.3 L374.5,286 L372,283.6 L369.4,281.1 L366.9,278.7 L364.2,276.2 L361.6,273.6 L359.1,271.1 Z"/><path class="bl" d="M383.3,246.6 L385.8,249 L388.2,251.4 L390.7,253.8 L393.3,256.2 L395.9,258.7 L398.4,261.2 L401.1,263.7 L403.7,266.3 L406.3,269 L408.9,271.7 L411.5,274.5 L414.1,277.4 L416.6,280.3 L419.1,283.3 L421.4,286.3 L423.7,289.3 L426,292.2 L428.2,295.2 L430.4,298.1 L432.5,301 L434.6,303.9 L436.7,306.7 L438.7,309.5 L440.8,312.3M380.1,249.8 L382.6,252.3 L385,254.7 L387.6,257.1 L390.1,259.5 L392.7,262 L395.2,264.5 L397.8,267 L400.4,269.6 L403,272.2 L405.6,274.9 L408.1,277.6 L410.7,280.4 L413.1,283.3 L415.5,286.2 L417.8,289.1 L420.1,292 L422.3,295 L424.5,297.9 L426.6,300.8 L428.8,303.7 L430.9,306.6 L433,309.4 L435,312.3 L437.2,315.1M376.9,253.1 L379.3,255.6 L381.8,258 L384.4,260.4 L386.9,262.9 L389.5,265.3 L392,267.8 L394.6,270.3 L397.2,272.8 L399.7,275.4 L402.2,278 L404.7,280.7 L407.2,283.5 L409.6,286.3 L411.9,289.1 L414.2,292 L416.4,294.8 L418.6,297.7 L420.8,300.6 L422.9,303.5 L425.1,306.4 L427.2,309.3 L429.3,312.2 L431.4,315 L433.5,317.8M373.6,256.4 L376.1,258.8 L378.6,261.3 L381.2,263.7 L383.7,266.2 L386.3,268.6 L388.8,271.1 L391.4,273.6 L393.9,276.1 L396.4,278.6 L398.9,281.2 L401.3,283.8 L403.7,286.5 L406.1,289.2 L408.4,292 L410.6,294.8 L412.8,297.6 L415,300.5 L417.1,303.4 L419.2,306.3 L421.3,309.2 L423.4,312 L425.6,314.9 L427.7,317.8 L429.8,320.6M370.4,259.6 L372.9,262.1 L375.4,264.6 L378,267.1 L380.6,269.5 L383.1,272 L385.7,274.4 L388.2,276.9 L390.7,279.3 L393.1,281.8 L395.6,284.3 L397.9,286.9 L400.3,289.5 L402.5,292.2 L404.8,294.9 L407,297.6 L409.1,300.4 L411.3,303.3 L413.4,306.1 L415.5,309 L417.6,311.9 L419.7,314.8 L421.9,317.7 L424,320.5 L426.2,323.4M367.1,262.9 L369.7,265.4 L372.2,267.9 L374.8,270.4 L377.4,272.8 L379.9,275.3 L382.5,277.7 L384.9,280.1 L387.4,282.6 L389.8,285 L392.2,287.5 L394.5,290 L396.8,292.5 L399,295.1 L401.2,297.8 L403.4,300.5 L405.5,303.2 L407.6,306 L409.7,308.9 L411.8,311.7 L413.9,314.6 L416,317.5 L418.2,320.4 L420.3,323.3 L422.5,326.2M363.9,266.2 L366.5,268.7 L369,271.2 L371.6,273.7 L374.2,276.2 L376.7,278.6 L379.3,281 L381.7,283.4 L384.2,285.8 L386.5,288.2 L388.9,290.7 L391.1,293.1 L393.3,295.6 L395.5,298.1 L397.6,300.7 L399.7,303.3 L401.8,306 L403.9,308.8 L406,311.6 L408.1,314.4 L410.2,317.3 L412.3,320.2 L414.5,323.1 L416.6,326.1 L418.8,328.9M360.7,269.4 L363.2,272 L365.8,274.5 L368.4,277 L371,279.5 L373.6,281.9 L376.1,284.3 L378.5,286.7 L380.9,289.1 L383.3,291.5 L385.5,293.8 L387.7,296.2 L389.9,298.6 L392,301 L394.1,303.6 L396.1,306.2 L398.2,308.8 L400.2,311.5 L402.3,314.3 L404.4,317.2 L406.5,320 L408.6,322.9 L410.8,325.9 L413,328.8 L415.2,331.7" stroke-width="1.6"/>
<path class="bf" d="M231.2,104.2 L231.4,109 L231.7,113.9 L231.9,118.9 L232.2,123.9 L232.5,128.9 L232.7,133.9 L233,138.8 L233.2,143.6 L233.4,148.3 L233.7,152.8 L233.9,157.1 L234.1,161.2 L234.3,165.1 L234.4,168.7 L234.6,172.1 L234.7,175.4 L234.8,178.5 L235,181.5 L235.1,184.5 L235.2,187.4 L235.3,190.3 L235.4,193.2 L235.6,196.2 L235.7,199.3 L203.3,200.7 L203.2,197.6 L203.1,194.5 L202.9,191.6 L202.8,188.7 L202.7,185.8 L202.6,182.8 L202.5,179.8 L202.3,176.8 L202.2,173.5 L202.1,170.2 L201.9,166.6 L201.7,162.8 L201.5,158.7 L201.3,154.4 L201.1,149.9 L200.9,145.2 L200.6,140.4 L200.4,135.5 L200.1,130.5 L199.8,125.5 L199.6,120.5 L199.3,115.6 L199.1,110.6 L198.8,105.8 Z"/><path class="bl" d="M228.5,104.3 L228.7,109.1 L229,114 L229.2,119 L229.5,124 L229.8,129 L230,134 L230.3,138.9 L230.5,143.7 L230.7,148.4 L231,152.9 L231.2,157.3 L231.4,161.4 L231.6,165.2 L231.7,168.8 L231.9,172.3 L232,175.5 L232.1,178.6 L232.3,181.6 L232.4,184.6 L232.5,187.5 L232.6,190.4 L232.7,193.3 L232.9,196.3 L233,199.4M223.1,104.6 L223.3,109.4 L223.6,114.3 L223.8,119.3 L224.1,124.3 L224.4,129.3 L224.6,134.3 L224.9,139.2 L225.1,144 L225.4,148.7 L225.6,153.2 L225.8,157.5 L226,161.6 L226.2,165.5 L226.3,169.1 L226.5,172.5 L226.6,175.7 L226.8,178.8 L226.9,181.9 L227,184.8 L227.1,187.7 L227.2,190.6 L227.3,193.6 L227.5,196.6 L227.6,199.7M217.7,104.9 L217.9,109.7 L218.2,114.6 L218.5,119.6 L218.7,124.6 L219,129.6 L219.2,134.5 L219.5,139.5 L219.7,144.3 L220,149 L220.2,153.5 L220.4,157.8 L220.6,161.9 L220.8,165.7 L220.9,169.3 L221.1,172.7 L221.2,176 L221.4,179.1 L221.5,182.1 L221.6,185 L221.7,187.9 L221.8,190.8 L221.9,193.8 L222.1,196.8 L222.2,199.9M212.3,105.1 L212.5,109.9 L212.8,114.9 L213.1,119.8 L213.3,124.8 L213.6,129.9 L213.8,134.8 L214.1,139.7 L214.3,144.5 L214.6,149.2 L214.8,153.7 L215,158 L215.2,162.1 L215.4,166 L215.5,169.6 L215.7,173 L215.8,176.2 L216,179.3 L216.1,182.3 L216.2,185.2 L216.3,188.1 L216.4,191.1 L216.6,194 L216.7,197 L216.8,200.1M206.9,105.4 L207.2,110.2 L207.4,115.1 L207.7,120.1 L207.9,125.1 L208.2,130.1 L208.4,135.1 L208.7,140 L208.9,144.8 L209.2,149.5 L209.4,154 L209.6,158.3 L209.8,162.4 L210,166.2 L210.1,169.8 L210.3,173.2 L210.4,176.4 L210.6,179.5 L210.7,182.5 L210.8,185.5 L210.9,188.4 L211,191.3 L211.2,194.2 L211.3,197.2 L211.4,200.3M201.5,105.7 L201.8,110.5 L202,115.4 L202.3,120.4 L202.5,125.4 L202.8,130.4 L203,135.4 L203.3,140.3 L203.5,145.1 L203.8,149.8 L204,154.3 L204.2,158.6 L204.4,162.6 L204.6,166.5 L204.8,170 L204.9,173.4 L205,176.6 L205.2,179.7 L205.3,182.7 L205.4,185.7 L205.5,188.6 L205.6,191.5 L205.8,194.4 L205.9,197.4 L206,200.6" stroke-width="1.6"/>
<path class="bf" d="M243.1,98.4 L243.7,99.7 L244.3,101 L244.9,102.3 L245.5,103.6 L246.1,104.9 L246.7,106.1 L247.2,107.3 L247.8,108.5 L248.4,109.7 L248.9,110.9 L249.4,112 L250,113 L250.5,114.1 L251,115.1 L251.6,116.2 L252.1,117.2 L252.7,118.2 L253.2,119.2 L253.8,120.3 L254.3,121.3 L254.9,122.3 L255.5,123.3 L256,124.3 L256.6,125.4 L257.2,126.5 L257.8,127.5 L258.4,128.6 L258.9,129.6 L259.5,130.6 L260,131.5 L260.5,132.4 L261,133.2 L261.5,134 L262,134.8 L262.4,135.5 L262.9,136.3 L263.4,137 L264,137.8 L264.5,138.5 L265,139.3 L265.6,139.9 L266.1,140.6 L266.6,141.2 L267.1,141.8 L267.6,142.4 L268,142.9 L268.5,143.5 L269,143.9 L269.4,144.3 L269.9,144.7 L270.4,145.2 L270.9,145.6 L271.6,146.1 L272.3,146.7 L273.1,147.3 L273.9,147.9 L274.8,148.5 L275.7,149.3 L276.7,150 L277.6,150.7 L258.4,175.3 L257.6,174.7 L256.9,174.1 L256.1,173.5 L255.3,172.9 L254.4,172.3 L253.5,171.6 L252.5,170.8 L251.4,170 L250.4,169.1 L249.2,168.2 L248.1,167.1 L247,166.1 L246,165 L245,164 L244.1,163 L243.2,162 L242.4,160.9 L241.6,159.9 L240.8,158.9 L240,157.9 L239.2,156.8 L238.5,155.8 L237.8,154.8 L237.1,153.7 L236.3,152.6 L235.6,151.4 L234.9,150.3 L234.2,149.1 L233.5,148 L232.9,146.9 L232.3,145.8 L231.7,144.7 L231.1,143.7 L230.5,142.6 L229.9,141.6 L229.4,140.6 L228.8,139.6 L228.2,138.5 L227.6,137.4 L227,136.4 L226.4,135.3 L225.8,134.1 L225.2,133 L224.6,131.8 L223.9,130.7 L223.3,129.5 L222.7,128.2 L222,127 L221.4,125.7 L220.8,124.4 L220.1,123.1 L219.5,121.7 L218.9,120.4 L218.3,119.1 L217.7,117.8 L217.1,116.6 L216.6,115.3 L216,114 L215.4,112.8 L214.9,111.6 Z"/><path class="bl" d="M240.8,99.5 L241.4,100.8 L242,102.1 L242.6,103.4 L243.2,104.7 L243.7,105.9 L244.3,107.2 L244.9,108.4 L245.4,109.6 L246,110.8 L246.6,112 L247.1,113.1 L247.6,114.2 L248.2,115.3 L248.7,116.3 L249.3,117.4 L249.8,118.4 L250.4,119.5 L250.9,120.5 L251.5,121.5 L252,122.5 L252.6,123.6 L253.2,124.6 L253.8,125.6 L254.3,126.7 L254.9,127.7 L255.5,128.8 L256.1,129.8 L256.7,130.8 L257.2,131.8 L257.7,132.8 L258.3,133.7 L258.8,134.6 L259.3,135.4 L259.8,136.2 L260.3,137 L260.8,137.7 L261.3,138.5 L261.9,139.3 L262.4,140.1 L263,140.8 L263.5,141.5 L264,142.2 L264.6,142.9 L265.1,143.5 L265.6,144.1 L266.1,144.7 L266.7,145.3 L267.2,145.8 L267.6,146.2 L268.1,146.7 L268.7,147.2 L269.3,147.7 L270,148.2 L270.7,148.8 L271.5,149.4 L272.3,150 L273.2,150.6 L274.2,151.3 L275.1,152.1 L276,152.8M236.1,101.7 L236.7,103 L237.3,104.3 L237.8,105.6 L238.4,106.8 L239,108.1 L239.6,109.4 L240.2,110.6 L240.7,111.8 L241.3,113.1 L241.9,114.2 L242.4,115.4 L243,116.5 L243.5,117.6 L244.1,118.7 L244.7,119.8 L245.2,120.9 L245.8,121.9 L246.4,123 L246.9,124 L247.5,125 L248.1,126.1 L248.6,127.1 L249.2,128.2 L249.8,129.2 L250.4,130.3 L251,131.3 L251.6,132.3 L252.1,133.4 L252.7,134.4 L253.2,135.3 L253.8,136.3 L254.3,137.2 L254.8,138.1 L255.4,139 L255.9,139.8 L256.5,140.6 L257,141.5 L257.6,142.3 L258.2,143.1 L258.8,143.9 L259.4,144.7 L259.9,145.4 L260.5,146.1 L261.1,146.9 L261.7,147.5 L262.3,148.2 L262.9,148.9 L263.5,149.5 L264.1,150 L264.7,150.6 L265.4,151.2 L266.1,151.7 L266.8,152.3 L267.6,152.9 L268.4,153.5 L269.2,154.1 L270.1,154.8 L271,155.5 L271.9,156.2 L272.8,156.9M231.4,103.9 L231.9,105.2 L232.5,106.4 L233.1,107.7 L233.7,109 L234.3,110.3 L234.9,111.5 L235.4,112.8 L236,114 L236.6,115.3 L237.2,116.5 L237.8,117.7 L238.3,118.8 L238.9,120 L239.5,121.1 L240.1,122.2 L240.6,123.3 L241.2,124.4 L241.8,125.4 L242.4,126.5 L242.9,127.6 L243.5,128.6 L244.1,129.6 L244.7,130.7 L245.3,131.7 L245.9,132.8 L246.4,133.8 L247,134.9 L247.6,135.9 L248.1,136.9 L248.7,137.9 L249.3,138.9 L249.8,139.9 L250.4,140.8 L251,141.7 L251.6,142.7 L252.2,143.5 L252.8,144.4 L253.4,145.3 L254,146.2 L254.6,147 L255.2,147.8 L255.9,148.6 L256.5,149.4 L257.1,150.2 L257.8,151 L258.5,151.7 L259.1,152.4 L259.8,153.2 L260.5,153.8 L261.3,154.5 L262,155.1 L262.8,155.8 L263.6,156.4 L264.4,157.1 L265.3,157.7 L266.1,158.3 L267,159 L267.9,159.6 L268.8,160.3 L269.6,161M226.6,106.1 L227.2,107.3 L227.8,108.6 L228.4,109.9 L229,111.2 L229.6,112.4 L230.1,113.7 L230.7,115 L231.3,116.2 L231.9,117.5 L232.5,118.7 L233.1,120 L233.7,121.2 L234.3,122.3 L234.9,123.5 L235.4,124.6 L236,125.7 L236.6,126.8 L237.2,127.9 L237.8,129 L238.4,130.1 L239,131.1 L239.6,132.2 L240.1,133.2 L240.7,134.3 L241.3,135.3 L241.9,136.3 L242.5,137.4 L243,138.4 L243.6,139.4 L244.2,140.5 L244.8,141.5 L245.4,142.5 L246,143.5 L246.6,144.5 L247.2,145.5 L247.8,146.5 L248.5,147.4 L249.1,148.3 L249.8,149.2 L250.4,150.1 L251.1,151 L251.8,151.9 L252.5,152.7 L253.2,153.6 L253.9,154.4 L254.6,155.2 L255.4,156 L256.2,156.8 L257,157.6 L257.8,158.4 L258.7,159.1 L259.6,159.8 L260.4,160.5 L261.3,161.2 L262.2,161.9 L263,162.5 L263.9,163.1 L264.7,163.8 L265.6,164.4 L266.4,165M221.9,108.3 L222.5,109.5 L223.1,110.8 L223.7,112 L224.2,113.3 L224.8,114.6 L225.4,115.9 L226,117.2 L226.6,118.4 L227.2,119.7 L227.8,121 L228.4,122.2 L229,123.5 L229.6,124.7 L230.2,125.9 L230.8,127 L231.4,128.2 L232,129.3 L232.6,130.4 L233.2,131.5 L233.8,132.6 L234.4,133.7 L235,134.7 L235.6,135.8 L236.2,136.8 L236.8,137.8 L237.3,138.9 L237.9,139.9 L238.5,140.9 L239.1,142 L239.7,143 L240.3,144.1 L240.9,145.2 L241.5,146.2 L242.2,147.3 L242.9,148.3 L243.5,149.4 L244.2,150.4 L244.9,151.3 L245.6,152.3 L246.3,153.2 L247,154.1 L247.7,155.1 L248.4,156 L249.2,156.9 L250,157.8 L250.8,158.7 L251.6,159.6 L252.5,160.5 L253.4,161.4 L254.4,162.3 L255.4,163.1 L256.3,163.9 L257.2,164.6 L258.2,165.3 L259.1,166 L259.9,166.7 L260.8,167.3 L261.6,167.9 L262.4,168.5 L263.2,169.1M217.2,110.5 L217.8,111.7 L218.4,112.9 L218.9,114.2 L219.5,115.5 L220.1,116.8 L220.7,118.1 L221.3,119.3 L221.9,120.6 L222.5,121.9 L223.1,123.2 L223.7,124.5 L224.4,125.8 L225,127 L225.6,128.3 L226.2,129.5 L226.9,130.6 L227.5,131.8 L228.1,132.9 L228.7,134 L229.3,135.1 L229.9,136.2 L230.5,137.2 L231.1,138.3 L231.7,139.3 L232.2,140.4 L232.8,141.4 L233.3,142.4 L233.9,143.5 L234.5,144.5 L235.1,145.6 L235.8,146.7 L236.4,147.8 L237.1,148.9 L237.8,150.1 L238.5,151.2 L239.2,152.3 L239.9,153.3 L240.6,154.3 L241.4,155.3 L242.1,156.3 L242.8,157.3 L243.6,158.3 L244.4,159.3 L245.2,160.3 L246.1,161.3 L247,162.3 L247.9,163.2 L248.8,164.2 L249.9,165.2 L251,166.2 L252,167.1 L253.1,168 L254.1,168.7 L255,169.5 L256,170.2 L256.8,170.8 L257.7,171.5 L258.5,172.1 L259.2,172.6 L260,173.2" stroke-width="1.6"/>
<path class="bf" d="M230.1,99.2 L227.4,105.2 L224.7,111.3 L221.9,117.4 L219.2,123.4 L216.5,129.5 L213.7,135.6 L211,141.6 L208.3,147.7 L205.5,153.8 L202.8,159.8 L200.1,165.9 L197.3,172 L172.7,160.9 L175.5,154.8 L178.2,148.8 L180.9,142.7 L183.7,136.6 L186.4,130.6 L189.1,124.5 L191.9,118.4 L194.6,112.4 L197.3,106.3 L200.1,100.2 L202.8,94.2 L205.5,88.1 Z"/><path class="bl" d="M227.7,98.1 L224.9,104.1 L222.2,110.2 L219.5,116.3 L216.7,122.3 L214,128.4 L211.3,134.5 L208.5,140.5 L205.8,146.6 L203.1,152.7 L200.3,158.7 L197.6,164.8 L194.9,170.9M222.8,95.9 L220,101.9 L217.3,108 L214.6,114.1 L211.8,120.1 L209.1,126.2 L206.4,132.3 L203.6,138.3 L200.9,144.4 L198.2,150.5 L195.4,156.5 L192.7,162.6 L190,168.7M217.8,93.6 L215.1,99.7 L212.4,105.8 L209.6,111.8 L206.9,117.9 L204.2,124 L201.4,130 L198.7,136.1 L196,142.2 L193.2,148.2 L190.5,154.3 L187.8,160.4 L185,166.4M212.9,91.4 L210.2,97.5 L207.4,103.6 L204.7,109.6 L202,115.7 L199.2,121.8 L196.5,127.8 L193.8,133.9 L191,140 L188.3,146 L185.6,152.1 L182.8,158.2 L180.1,164.2M208,89.2 L205.3,95.3 L202.5,101.3 L199.8,107.4 L197.1,113.5 L194.3,119.5 L191.6,125.6 L188.9,131.7 L186.1,137.7 L183.4,143.8 L180.7,149.9 L177.9,155.9 L175.2,162" stroke-width="1.6"/>
<path class="bf" d="M186.6,207.1 L188.2,205.9 L189.8,204.7 L191.4,203.5 L192.9,202.3 L194.4,201.1 L196,199.9 L197.6,198.7 L199.2,197.4 L200.9,196.1 L202.6,194.8 L204.4,193.4 L206.4,192 L208.4,190.5 L210.6,188.9 L212.8,187.3 L215.1,185.7 L217.3,184 L219.6,182.4 L221.9,180.7 L224.1,179.1 L226.2,177.5 L228.3,175.9 L230.2,174.4 L232,172.9 L233.8,171.4 L235.5,169.9 L237.2,168.5 L238.8,167 L240.4,165.5 L241.9,164.1 L243.4,162.7 L244.8,161.2 L246.2,159.8 L247.5,158.4 L248.8,156.9 L250.1,155.4 L251.4,153.9 L252.6,152.4 L253.8,150.9 L254.9,149.4 L256,147.9 L257,146.4 L258,144.8 L259,143.3 L260,141.7 L260.9,140.1 L261.8,138.4 L262.7,136.8 L263.4,135.1 L264.2,133.3 L265,131.4 L265.7,129.3 L266.5,127.2 L267.2,125 L268,122.7 L268.7,120.3 L269.5,117.9 L270.3,115.4 L271.2,112.9 L272,110.5 L298,119.5 L297.2,121.8 L296.4,124 L295.7,126.3 L294.9,128.7 L294.1,131.1 L293.3,133.6 L292.5,136.1 L291.6,138.7 L290.6,141.2 L289.6,143.8 L288.5,146.3 L287.3,148.8 L286.2,151.2 L284.9,153.4 L283.7,155.6 L282.4,157.7 L281.1,159.8 L279.8,161.8 L278.4,163.8 L277,165.7 L275.6,167.6 L274.1,169.5 L272.6,171.3 L271.1,173.2 L269.5,175 L267.9,176.9 L266.2,178.7 L264.5,180.5 L262.7,182.2 L261,183.9 L259.2,185.6 L257.3,187.3 L255.5,189 L253.6,190.7 L251.6,192.3 L249.6,194.1 L247.5,195.8 L245.2,197.6 L242.9,199.4 L240.5,201.2 L238.1,202.9 L235.7,204.7 L233.4,206.3 L231.1,208 L228.9,209.6 L226.7,211.1 L224.7,212.6 L222.8,214 L221,215.4 L219.3,216.7 L217.6,218 L215.9,219.3 L214.3,220.5 L212.8,221.7 L211.2,222.9 L209.7,224.1 L208.1,225.3 L206.6,226.5 L205,227.7 L203.4,228.9 Z"/><path class="bl" d="M188.3,209.3 L189.9,208 L191.5,206.8 L193,205.6 L194.6,204.5 L196.1,203.3 L197.7,202.1 L199.3,200.8 L200.9,199.6 L202.6,198.3 L204.3,197 L206.1,195.6 L208,194.2 L210,192.7 L212.2,191.1 L214.4,189.5 L216.7,187.9 L219,186.2 L221.2,184.6 L223.5,183 L225.7,181.3 L227.9,179.7 L230,178.1 L231.9,176.6 L233.8,175.1 L235.5,173.5 L237.3,172 L239,170.5 L240.7,169 L242.3,167.6 L243.8,166.1 L245.3,164.6 L246.8,163.2 L248.2,161.7 L249.6,160.2 L250.9,158.7 L252.2,157.2 L253.5,155.6 L254.7,154.1 L256,152.5 L257.1,151 L258.2,149.5 L259.3,147.9 L260.4,146.3 L261.4,144.7 L262.3,143.1 L263.3,141.4 L264.2,139.7 L265.1,138 L266,136.2 L266.8,134.3 L267.5,132.4 L268.3,130.3 L269.1,128.1 L269.8,125.8 L270.6,123.5 L271.4,121.1 L272.1,118.7 L272.9,116.2 L273.8,113.8 L274.6,111.4M191.7,213.6 L193.3,212.4 L194.8,211.2 L196.4,210 L197.9,208.8 L199.5,207.6 L201,206.4 L202.6,205.2 L204.2,204 L205.9,202.7 L207.6,201.4 L209.4,200 L211.3,198.6 L213.3,197.1 L215.4,195.6 L217.6,194 L219.9,192.4 L222.2,190.7 L224.5,189.1 L226.8,187.4 L229,185.7 L231.2,184.1 L233.3,182.4 L235.4,180.8 L237.3,179.3 L239.1,177.7 L240.9,176.2 L242.7,174.6 L244.4,173.1 L246,171.6 L247.6,170.1 L249.2,168.5 L250.7,167 L252.2,165.5 L253.6,163.9 L255,162.4 L256.4,160.8 L257.7,159.1 L259.1,157.5 L260.3,155.9 L261.5,154.3 L262.7,152.6 L263.9,151 L265,149.3 L266,147.6 L267.1,145.9 L268.1,144.1 L269.1,142.3 L270.1,140.4 L271,138.4 L271.8,136.4 L272.7,134.3 L273.5,132.1 L274.3,129.9 L275.1,127.6 L275.8,125.2 L276.6,122.8 L277.4,120.4 L278.2,118 L279,115.6 L279.8,113.2M195,218 L196.6,216.8 L198.2,215.6 L199.7,214.4 L201.3,213.2 L202.8,212 L204.4,210.8 L206,209.6 L207.6,208.3 L209.2,207.1 L211,205.8 L212.7,204.4 L214.6,203 L216.6,201.5 L218.7,200 L220.8,198.4 L223.1,196.8 L225.4,195.2 L227.7,193.5 L230,191.8 L232.3,190.1 L234.5,188.5 L236.7,186.8 L238.8,185.1 L240.8,183.5 L242.7,181.9 L244.5,180.3 L246.3,178.7 L248.1,177.2 L249.8,175.6 L251.4,174 L253.1,172.4 L254.6,170.9 L256.2,169.3 L257.7,167.6 L259.2,166 L260.6,164.3 L262,162.6 L263.4,160.9 L264.7,159.2 L266,157.5 L267.2,155.8 L268.4,154.1 L269.6,152.3 L270.7,150.5 L271.8,148.7 L272.9,146.8 L274,144.8 L275,142.8 L276,140.7 L276.9,138.5 L277.8,136.3 L278.7,134 L279.5,131.7 L280.3,129.3 L281.1,126.9 L281.8,124.5 L282.6,122.1 L283.4,119.7 L284.2,117.3 L285,115M198.3,222.4 L200,221.1 L201.5,219.9 L203.1,218.7 L204.6,217.5 L206.2,216.3 L207.7,215.1 L209.3,213.9 L210.9,212.7 L212.6,211.4 L214.3,210.1 L216.1,208.8 L217.9,207.4 L219.8,206 L221.9,204.5 L224,202.9 L226.3,201.3 L228.6,199.6 L230.9,198 L233.2,196.3 L235.6,194.6 L237.9,192.8 L240.1,191.1 L242.3,189.4 L244.3,187.7 L246.3,186.1 L248.1,184.5 L250,182.8 L251.8,181.2 L253.5,179.6 L255.2,178 L256.9,176.4 L258.6,174.7 L260.2,173 L261.8,171.3 L263.3,169.6 L264.8,167.8 L266.3,166.1 L267.7,164.3 L269,162.6 L270.4,160.8 L271.7,159 L273,157.2 L274.2,155.3 L275.4,153.4 L276.6,151.4 L277.7,149.4 L278.8,147.4 L279.9,145.2 L281,143 L282,140.6 L282.9,138.3 L283.8,135.9 L284.7,133.4 L285.5,131 L286.3,128.6 L287.1,126.2 L287.8,123.8 L288.6,121.4 L289.4,119.1 L290.2,116.8M201.7,226.7 L203.3,225.5 L204.9,224.3 L206.5,223.1 L208,221.9 L209.5,220.7 L211.1,219.5 L212.7,218.3 L214.3,217.1 L215.9,215.8 L217.6,214.5 L219.4,213.2 L221.2,211.8 L223.1,210.4 L225.1,208.9 L227.3,207.4 L229.5,205.8 L231.8,204.1 L234.1,202.4 L236.5,200.7 L238.9,199 L241.2,197.2 L243.5,195.5 L245.7,193.7 L247.8,191.9 L249.8,190.3 L251.8,188.6 L253.6,187 L255.5,185.3 L257.3,183.6 L259.1,182 L260.8,180.3 L262.5,178.6 L264.2,176.8 L265.8,175 L267.4,173.2 L269,171.4 L270.5,169.6 L272,167.8 L273.4,165.9 L274.8,164.1 L276.2,162.2 L277.5,160.3 L278.8,158.3 L280.1,156.3 L281.3,154.2 L282.5,152.1 L283.7,149.9 L284.9,147.6 L286,145.2 L287.1,142.7 L288.1,140.2 L289,137.7 L289.9,135.2 L290.7,132.8 L291.5,130.3 L292.3,127.9 L293.1,125.5 L293.8,123.2 L294.6,120.9 L295.4,118.6" stroke-width="1.6"/>
<path class="bf" d="M291.5,101.4 L292.5,103.4 L293.6,105.3 L294.7,107.3 L295.7,109.2 L296.7,111 L297.7,112.8 L298.7,114.6 L299.7,116.3 L300.7,117.9 L301.6,119.5 L302.6,120.9 L303.5,122.3 L304.5,123.6 L305.5,124.9 L306.6,126.2 L307.8,127.6 L309,128.9 L310.4,130.3 L311.7,131.8 L313.2,133.3 L314.6,134.9 L316.2,136.6 L317.7,138.4 L319.3,140.3 L320.8,142.2 L322.2,144.1 L323.6,145.9 L324.9,147.8 L326.2,149.6 L327.5,151.4 L328.8,153.2 L330,154.9 L331.3,156.6 L332.6,158.3 L333.9,160 L335.2,161.6 L336.6,163.3 L338.1,165 L339.7,166.8 L341.3,168.7 L343,170.5 L344.8,172.4 L346.5,174.2 L348.2,176.1 L349.9,177.9 L351.6,179.7 L353.2,181.4 L354.7,183 L356.1,184.6 L357.5,186 L358.7,187.4 L360,188.8 L361.2,190 L362.4,191.3 L363.6,192.6 L364.8,193.8 L366,195.1 L367.2,196.3 L368.4,197.6 L369.6,199 L350.4,217 L349.1,215.7 L348,214.5 L346.8,213.2 L345.6,212 L344.4,210.7 L343.2,209.4 L342,208.1 L340.7,206.8 L339.5,205.4 L338.1,204 L336.7,202.5 L335.3,201 L333.8,199.4 L332.3,197.7 L330.6,195.9 L328.9,194.1 L327.2,192.2 L325.4,190.3 L323.6,188.3 L321.8,186.4 L320,184.4 L318.2,182.4 L316.5,180.4 L314.8,178.4 L313.2,176.4 L311.6,174.4 L310.2,172.4 L308.7,170.5 L307.3,168.6 L306,166.8 L304.7,165 L303.5,163.2 L302.3,161.5 L301.1,159.9 L299.9,158.4 L298.7,156.9 L297.6,155.5 L296.4,154.1 L295.1,152.7 L293.8,151.3 L292.5,149.8 L291,148.3 L289.6,146.8 L288.1,145.1 L286.6,143.4 L285.1,141.6 L283.6,139.7 L282.1,137.7 L280.7,135.6 L279.3,133.6 L278.1,131.6 L276.9,129.6 L275.7,127.6 L274.6,125.6 L273.6,123.7 L272.5,121.8 L271.5,119.9 L270.5,118.1 L269.6,116.3 L268.5,114.6 Z"/><path class="bl" d="M289.5,102.5 L290.6,104.4 L291.7,106.4 L292.8,108.3 L293.8,110.2 L294.8,112.1 L295.8,113.9 L296.8,115.7 L297.8,117.4 L298.8,119 L299.8,120.6 L300.7,122.2 L301.7,123.6 L302.8,125 L303.8,126.3 L305,127.7 L306.2,129 L307.4,130.4 L308.7,131.8 L310.1,133.3 L311.6,134.8 L313,136.4 L314.5,138.1 L316,139.9 L317.6,141.7 L319,143.5 L320.4,145.4 L321.8,147.2 L323.1,149.1 L324.4,150.9 L325.7,152.7 L327,154.5 L328.3,156.2 L329.5,158 L330.8,159.7 L332.1,161.3 L333.5,163 L334.9,164.7 L336.4,166.5 L338,168.3 L339.7,170.1 L341.4,172 L343.1,173.9 L344.9,175.7 L346.6,177.6 L348.3,179.4 L349.9,181.2 L351.6,182.9 L353.1,184.5 L354.5,186.1 L355.8,187.5 L357.1,188.9 L358.4,190.3 L359.6,191.6 L360.8,192.8 L362,194.1 L363.2,195.3 L364.4,196.6 L365.6,197.9 L366.8,199.2 L368,200.5M285.7,104.7 L286.8,106.6 L287.9,108.5 L288.9,110.4 L289.9,112.3 L291,114.2 L292,116 L293,117.8 L294,119.6 L295,121.3 L296,123 L297.1,124.6 L298.2,126.2 L299.3,127.6 L300.4,129.1 L301.6,130.5 L302.9,132 L304.2,133.4 L305.5,134.8 L306.9,136.3 L308.3,137.8 L309.8,139.4 L311.2,141 L312.7,142.7 L314.1,144.5 L315.5,146.2 L316.9,148 L318.2,149.8 L319.6,151.6 L320.8,153.4 L322.1,155.2 L323.4,157 L324.7,158.8 L326,160.6 L327.3,162.3 L328.7,164.1 L330.1,165.8 L331.6,167.5 L333.1,169.4 L334.8,171.2 L336.4,173.1 L338.2,175 L339.9,176.9 L341.6,178.7 L343.4,180.6 L345.1,182.4 L346.7,184.2 L348.3,185.9 L349.8,187.5 L351.3,189.1 L352.6,190.5 L353.9,191.9 L355.2,193.3 L356.4,194.6 L357.6,195.8 L358.8,197.1 L360,198.4 L361.2,199.6 L362.4,200.9 L363.6,202.2 L364.8,203.5M281.9,106.9 L283,108.8 L284,110.6 L285.1,112.5 L286.1,114.4 L287.1,116.3 L288.1,118.1 L289.1,120 L290.2,121.8 L291.2,123.6 L292.3,125.4 L293.4,127.1 L294.6,128.7 L295.8,130.3 L297,131.9 L298.3,133.4 L299.6,134.9 L300.9,136.4 L302.3,137.8 L303.7,139.3 L305.1,140.8 L306.5,142.4 L307.9,143.9 L309.3,145.5 L310.7,147.2 L312.1,148.9 L313.4,150.7 L314.7,152.4 L316,154.2 L317.3,156 L318.6,157.8 L319.8,159.6 L321.2,161.4 L322.5,163.2 L323.8,165 L325.2,166.8 L326.7,168.6 L328.2,170.4 L329.8,172.3 L331.5,174.1 L333.2,176 L334.9,177.9 L336.7,179.8 L338.4,181.7 L340.2,183.6 L341.9,185.4 L343.5,187.2 L345.1,188.9 L346.6,190.5 L348,192 L349.4,193.5 L350.7,194.9 L352,196.3 L353.2,197.6 L354.4,198.9 L355.6,200.1 L356.8,201.4 L358,202.6 L359.2,203.9 L360.4,205.2 L361.6,206.5M278.1,109.1 L279.1,110.9 L280.2,112.8 L281.2,114.6 L282.2,116.5 L283.2,118.4 L284.3,120.3 L285.3,122.2 L286.4,124 L287.5,125.9 L288.6,127.7 L289.8,129.5 L291,131.3 L292.3,133 L293.6,134.7 L294.9,136.3 L296.3,137.8 L297.7,139.3 L299.1,140.8 L300.5,142.3 L301.9,143.8 L303.3,145.3 L304.6,146.8 L306,148.4 L307.3,150 L308.6,151.6 L309.9,153.3 L311.1,155 L312.4,156.8 L313.7,158.6 L315,160.4 L316.3,162.2 L317.6,164 L319,165.9 L320.4,167.7 L321.8,169.6 L323.3,171.4 L324.9,173.3 L326.5,175.1 L328.2,177.1 L329.9,179 L331.7,180.9 L333.4,182.8 L335.2,184.7 L336.9,186.6 L338.7,188.4 L340.3,190.2 L341.9,191.9 L343.4,193.5 L344.8,195 L346.2,196.5 L347.5,197.9 L348.8,199.3 L350,200.6 L351.2,201.9 L352.4,203.1 L353.6,204.4 L354.8,205.7 L356,206.9 L357.2,208.2 L358.4,209.5M274.3,111.3 L275.3,113.1 L276.3,114.9 L277.3,116.7 L278.3,118.6 L279.4,120.5 L280.4,122.4 L281.5,124.3 L282.6,126.2 L283.7,128.2 L284.9,130.1 L286.1,132 L287.4,133.8 L288.8,135.7 L290.2,137.4 L291.6,139.1 L293,140.7 L294.5,142.3 L295.9,143.8 L297.3,145.3 L298.7,146.8 L300,148.3 L301.3,149.7 L302.6,151.2 L303.9,152.7 L305.1,154.3 L306.4,156 L307.6,157.6 L308.8,159.4 L310.1,161.1 L311.4,162.9 L312.7,164.8 L314,166.6 L315.4,168.5 L316.9,170.4 L318.4,172.3 L319.9,174.2 L321.5,176.1 L323.2,178 L324.9,180 L326.7,181.9 L328.4,183.9 L330.2,185.8 L332,187.7 L333.7,189.6 L335.4,191.4 L337.1,193.2 L338.7,194.9 L340.2,196.5 L341.6,198 L343,199.5 L344.3,200.9 L345.6,202.3 L346.8,203.6 L348,204.9 L349.2,206.2 L350.4,207.4 L351.6,208.7 L352.8,209.9 L354,211.2 L355.2,212.5M270.5,113.5 L271.5,115.3 L272.5,117 L273.5,118.8 L274.5,120.7 L275.5,122.6 L276.6,124.5 L277.6,126.5 L278.8,128.5 L280,130.4 L281.2,132.4 L282.5,134.4 L283.9,136.4 L285.3,138.4 L286.8,140.2 L288.3,142 L289.8,143.7 L291.2,145.3 L292.7,146.8 L294.1,148.3 L295.4,149.8 L296.7,151.2 L298,152.7 L299.3,154.1 L300.4,155.5 L301.6,157 L302.8,158.6 L304,160.2 L305.3,161.9 L306.5,163.7 L307.8,165.5 L309.1,167.3 L310.5,169.2 L311.9,171.1 L313.4,173.1 L314.9,175 L316.5,177 L318.2,179 L319.9,180.9 L321.6,182.9 L323.4,184.9 L325.2,186.9 L327,188.8 L328.8,190.7 L330.5,192.6 L332.2,194.4 L333.9,196.2 L335.4,197.9 L336.9,199.5 L338.4,201 L339.7,202.5 L341.1,203.9 L342.3,205.3 L343.6,206.6 L344.8,207.9 L346,209.2 L347.2,210.4 L348.4,211.7 L349.6,212.9 L350.8,214.2 L352,215.5" stroke-width="1.6"/>
<path class="bf" d="M358.3,101.4 L359,103.9 L359.7,106.3 L360.4,108.8 L361.1,111.2 L361.8,113.8 L362.5,116.3 L363.2,118.9 L363.9,121.4 L364.6,124.1 L365.2,126.7 L365.9,129.4 L366.5,132 L367,134.4 L367.6,136.8 L368.2,139.2 L368.8,141.8 L369.4,144.5 L370,147.2 L370.6,150 L371.1,153 L371.5,156 L371.7,159.1 L371.8,162.4 L371.8,165.6 L371.6,168.7 L371.3,171.8 L370.8,174.8 L370.3,177.9 L369.7,181 L368.9,184 L368.1,187 L367.1,190 L366,193 L364.9,195.9 L363.6,198.8 L362.1,201.6 L360.4,204.5 L358.6,207.2 L356.7,209.8 L354.7,212.3 L352.6,214.6 L350.5,216.8 L348.5,218.9 L346.4,220.8 L344.4,222.7 L342.5,224.4 L340.7,226 L338.9,227.5 L337,229.1 L335,230.7 L333,232 L331.1,233.2 L329.2,234.3 L327.5,235.3 L325.8,236.2 L324.3,237 L322.9,237.7 L321.6,238.4 L320.4,239.1 L319,239.9 L305,216.1 L306.6,215.1 L308.4,214.2 L310,213.3 L311.6,212.5 L313,211.8 L314.3,211.1 L315.5,210.4 L316.6,209.7 L317.7,209 L318.8,208.3 L319.9,207.5 L321.1,206.5 L322.5,205.2 L324.2,203.7 L325.8,202.3 L327.5,200.7 L329.1,199.2 L330.7,197.6 L332.2,196 L333.6,194.4 L334.9,192.8 L336.1,191.3 L337,189.8 L337.9,188.4 L338.7,186.8 L339.5,185 L340.3,183.1 L341,181.2 L341.6,179.1 L342.2,177 L342.7,174.9 L343.2,172.7 L343.6,170.5 L343.9,168.4 L344.1,166.3 L344.2,164.4 L344.2,162.6 L344.2,160.9 L344,159 L343.8,157 L343.4,155 L343,152.8 L342.5,150.5 L341.9,148.2 L341.4,145.8 L340.7,143.2 L340.1,140.6 L339.5,138 L339,135.6 L338.4,133.3 L337.8,130.9 L337.2,128.6 L336.6,126.1 L335.9,123.7 L335.2,121.2 L334.5,118.8 L333.8,116.2 L333.1,113.7 L332.4,111.1 L331.7,108.6 Z"/><path class="bl" d="M356.1,102 L356.8,104.5 L357.4,106.9 L358.1,109.4 L358.8,111.9 L359.6,114.4 L360.3,116.9 L361,119.5 L361.7,122 L362.3,124.6 L363,127.3 L363.6,129.9 L364.2,132.5 L364.8,134.9 L365.3,137.3 L365.9,139.8 L366.6,142.3 L367.2,145 L367.8,147.7 L368.3,150.4 L368.8,153.3 L369.2,156.3 L369.4,159.3 L369.5,162.4 L369.5,165.5 L369.3,168.5 L369,171.5 L368.6,174.5 L368,177.5 L367.4,180.4 L366.7,183.4 L365.9,186.4 L364.9,189.3 L363.9,192.2 L362.7,195 L361.5,197.8 L360.1,200.5 L358.5,203.2 L356.7,205.9 L354.9,208.4 L352.9,210.8 L350.9,213 L348.9,215.2 L346.9,217.2 L344.8,219.2 L342.9,221 L341,222.7 L339.2,224.2 L337.4,225.8 L335.6,227.3 L333.6,228.8 L331.7,230.1 L329.9,231.3 L328.1,232.3 L326.4,233.3 L324.8,234.1 L323.2,234.9 L321.8,235.7 L320.5,236.4 L319.2,237.1 L317.8,237.9M351.7,103.2 L352.3,105.7 L353,108.1 L353.7,110.6 L354.4,113.1 L355.1,115.6 L355.8,118.1 L356.5,120.7 L357.2,123.2 L357.9,125.8 L358.5,128.4 L359.2,130.9 L359.7,133.5 L360.3,135.9 L360.9,138.4 L361.5,140.9 L362.1,143.4 L362.7,146 L363.3,148.6 L363.8,151.3 L364.2,154 L364.6,156.8 L364.8,159.6 L364.9,162.4 L364.9,165.3 L364.7,168.1 L364.4,170.9 L364,173.8 L363.5,176.6 L362.9,179.4 L362.2,182.3 L361.5,185 L360.6,187.8 L359.6,190.5 L358.5,193.2 L357.3,195.8 L356.1,198.3 L354.6,200.8 L353,203.2 L351.2,205.6 L349.4,207.8 L347.5,209.9 L345.6,212 L343.6,213.9 L341.7,215.8 L339.8,217.6 L337.9,219.2 L336.2,220.8 L334.5,222.3 L332.7,223.7 L330.9,225.1 L329.2,226.3 L327.5,227.4 L325.8,228.3 L324.2,229.2 L322.6,230.1 L321.1,230.9 L319.7,231.6 L318.3,232.4 L316.9,233.1 L315.5,233.9M347.2,104.4 L347.9,106.9 L348.6,109.4 L349.3,111.9 L350,114.4 L350.7,116.9 L351.4,119.4 L352.1,121.9 L352.8,124.4 L353.4,126.9 L354.1,129.5 L354.7,132 L355.2,134.5 L355.8,137 L356.4,139.5 L357,142 L357.6,144.5 L358.2,147 L358.8,149.5 L359.3,152.1 L359.7,154.7 L360,157.3 L360.2,159.9 L360.3,162.5 L360.3,165.1 L360.1,167.7 L359.8,170.4 L359.5,173 L359,175.7 L358.4,178.4 L357.8,181.1 L357,183.7 L356.2,186.3 L355.3,188.9 L354.3,191.4 L353.2,193.8 L352,196.1 L350.7,198.4 L349.2,200.6 L347.6,202.7 L345.9,204.8 L344.1,206.8 L342.3,208.8 L340.4,210.7 L338.5,212.5 L336.7,214.2 L334.9,215.8 L333.1,217.3 L331.5,218.8 L329.9,220.1 L328.2,221.3 L326.6,222.4 L325.1,223.4 L323.5,224.4 L322,225.2 L320.5,226 L319,226.8 L317.5,227.5 L316.1,228.3 L314.6,229.1 L313.2,230M342.8,105.6 L343.5,108.1 L344.2,110.6 L344.9,113.1 L345.6,115.6 L346.3,118.1 L347,120.6 L347.7,123.1 L348.3,125.6 L349,128.1 L349.6,130.5 L350.2,133 L350.8,135.5 L351.3,138 L351.9,140.5 L352.5,143 L353.1,145.5 L353.7,148 L354.2,150.5 L354.7,152.9 L355.1,155.3 L355.4,157.7 L355.7,160.1 L355.7,162.5 L355.7,164.9 L355.5,167.3 L355.3,169.8 L354.9,172.3 L354.5,174.9 L354,177.4 L353.3,179.9 L352.6,182.4 L351.9,184.9 L351,187.2 L350.1,189.6 L349.1,191.8 L348,193.9 L346.8,195.9 L345.5,197.9 L344,199.9 L342.4,201.8 L340.7,203.7 L339,205.6 L337.2,207.4 L335.4,209.1 L333.6,210.8 L331.8,212.3 L330.1,213.8 L328.5,215.2 L327,216.5 L325.5,217.6 L324.1,218.6 L322.6,219.5 L321.2,220.4 L319.8,221.2 L318.3,221.9 L316.9,222.7 L315.4,223.5 L313.9,224.3 L312.4,225.1 L310.8,226M338.3,106.8 L339,109.3 L339.7,111.9 L340.4,114.4 L341.1,116.9 L341.8,119.4 L342.5,121.9 L343.2,124.3 L343.9,126.8 L344.5,129.2 L345.1,131.6 L345.7,134.1 L346.3,136.5 L346.8,139.1 L347.4,141.6 L348.1,144.1 L348.7,146.6 L349.2,149 L349.7,151.4 L350.2,153.7 L350.6,156 L350.9,158.2 L351.1,160.4 L351.1,162.6 L351.1,164.7 L351,166.9 L350.7,169.3 L350.4,171.6 L350,174 L349.5,176.4 L348.9,178.7 L348.2,181.1 L347.5,183.4 L346.7,185.6 L345.8,187.7 L344.9,189.8 L343.9,191.7 L342.9,193.5 L341.7,195.3 L340.4,197.1 L338.9,198.9 L337.3,200.6 L335.7,202.4 L334,204.1 L332.2,205.8 L330.5,207.4 L328.8,208.9 L327.1,210.4 L325.5,211.7 L324.1,212.9 L322.8,213.9 L321.5,214.8 L320.2,215.6 L318.9,216.4 L317.6,217.1 L316.2,217.9 L314.7,218.6 L313.2,219.4 L311.7,220.2 L310.1,221.1 L308.5,222.1M333.9,108 L334.6,110.5 L335.3,113.1 L336,115.6 L336.7,118.1 L337.4,120.6 L338.1,123.1 L338.8,125.5 L339.4,128 L340.1,130.4 L340.7,132.7 L341.2,135.1 L341.8,137.5 L342.4,140.1 L343,142.7 L343.6,145.2 L344.2,147.7 L344.7,150 L345.2,152.3 L345.7,154.6 L346,156.7 L346.3,158.7 L346.5,160.7 L346.5,162.6 L346.5,164.5 L346.4,166.5 L346.1,168.7 L345.8,170.9 L345.4,173.1 L345,175.4 L344.4,177.6 L343.8,179.8 L343.1,181.9 L342.4,184 L341.6,185.9 L340.8,187.8 L339.9,189.5 L339,191.1 L337.9,192.6 L336.7,194.2 L335.4,195.9 L333.9,197.5 L332.4,199.2 L330.7,200.8 L329.1,202.4 L327.4,204 L325.7,205.5 L324.1,206.9 L322.6,208.2 L321.3,209.3 L320.1,210.2 L319,210.9 L317.8,211.7 L316.6,212.4 L315.4,213.1 L314,213.8 L312.6,214.5 L311.1,215.3 L309.5,216.2 L307.8,217.1 L306.2,218.1" stroke-width="1.6"/>
<path class="bf" d="M379,228.7 L376.6,228.8 L374.3,228.9 L371.9,229 L369.5,229 L367.2,229 L364.8,228.9 L362.5,228.8 L360.1,228.6 L357.7,228.4 L355.4,228.2 L353.1,227.9 L350.7,227.5 L348.4,227.2 L346,226.8 L343.7,226.3 L341.4,225.8 L339.1,225.2 L336.8,224.7 L334.6,224 L332.3,223.4 L330,222.7 L327.8,221.9 L325.6,221.1 L323.4,220.3 L321.2,219.4 L319,218.5 L316.8,217.5 L314.7,216.5 L312.5,215.5 L310.4,214.4 L308.3,213.3 L306.3,212.2 L304.2,211 L302.2,209.8 L300.2,208.5 L298.2,207.2 L296.3,205.9 L294.4,204.5 L292.5,203.1 L290.6,201.7 L272.1,225.3 L274.4,227.1 L276.8,228.8 L279.1,230.5 L281.5,232.1 L284,233.7 L286.5,235.3 L288.9,236.8 L291.5,238.2 L294,239.7 L296.6,241 L299.2,242.4 L301.8,243.6 L304.4,244.9 L307.1,246 L309.8,247.2 L312.5,248.2 L315.2,249.3 L318,250.2 L320.7,251.2 L323.5,252.1 L326.3,252.9 L329.1,253.7 L331.9,254.4 L334.8,255 L337.6,255.7 L340.5,256.2 L343.3,256.8 L346.2,257.2 L349.1,257.6 L352,258 L354.9,258.3 L357.8,258.5 L360.7,258.7 L363.6,258.9 L366.5,259 L369.4,259 L372.4,259 L375.3,258.9 L378.2,258.8 L381.1,258.6 Z"/><path class="bl" d="M379.2,231.7 L376.8,231.8 L374.4,231.9 L372,232 L369.5,232 L367.1,232 L364.7,231.9 L362.3,231.8 L359.9,231.6 L357.5,231.4 L355.1,231.2 L352.7,230.9 L350.3,230.5 L347.9,230.1 L345.5,229.7 L343.1,229.2 L340.8,228.7 L338.4,228.2 L336.1,227.6 L333.7,226.9 L331.4,226.2 L329.1,225.5 L326.8,224.7 L324.5,223.9 L322.3,223.1 L320,222.2 L317.8,221.2 L315.6,220.3 L313.4,219.2 L311.2,218.2 L309,217.1 L306.9,215.9 L304.8,214.8 L302.7,213.6 L300.6,212.3 L298.6,211 L296.6,209.7 L294.6,208.3 L292.6,206.9 L290.7,205.5 L288.7,204M379.6,237.7 L377.1,237.8 L374.6,237.9 L372,238 L369.5,238 L367,238 L364.5,237.9 L361.9,237.8 L359.4,237.6 L356.9,237.4 L354.4,237.1 L351.9,236.8 L349.4,236.4 L346.9,236 L344.4,235.6 L341.9,235.1 L339.4,234.6 L337,234 L334.5,233.4 L332.1,232.7 L329.7,232 L327.2,231.2 L324.8,230.4 L322.5,229.6 L320.1,228.7 L317.7,227.7 L315.4,226.7 L313.1,225.7 L310.8,224.7 L308.5,223.6 L306.3,222.4 L304,221.2 L301.8,220 L299.6,218.7 L297.5,217.4 L295.3,216.1 L293.2,214.7 L291.1,213.2 L289.1,211.8 L287,210.3 L285,208.7M380,243.6 L377.4,243.8 L374.8,243.9 L372.1,244 L369.5,244 L366.9,244 L364.2,243.9 L361.6,243.8 L359,243.6 L356.3,243.3 L353.7,243.1 L351.1,242.8 L348.5,242.4 L345.9,242 L343.3,241.5 L340.7,241 L338.1,240.4 L335.5,239.8 L333,239.2 L330.4,238.5 L327.9,237.7 L325.4,236.9 L322.9,236.1 L320.4,235.2 L317.9,234.3 L315.5,233.3 L313,232.3 L310.6,231.2 L308.2,230.1 L305.9,228.9 L303.5,227.7 L301.2,226.5 L298.9,225.2 L296.6,223.9 L294.3,222.5 L292.1,221.1 L289.9,219.7 L287.7,218.2 L285.6,216.6 L283.4,215.1 L281.3,213.5M380.5,249.6 L377.7,249.8 L375,249.9 L372.2,250 L369.5,250 L366.7,250 L364,249.9 L361.2,249.7 L358.5,249.6 L355.8,249.3 L353,249 L350.3,248.7 L347.6,248.3 L344.9,247.9 L342.2,247.4 L339.5,246.9 L336.8,246.3 L334.1,245.6 L331.4,245 L328.8,244.2 L326.1,243.4 L323.5,242.6 L320.9,241.7 L318.3,240.8 L315.8,239.8 L313.2,238.8 L310.7,237.8 L308.2,236.7 L305.7,235.5 L303.2,234.3 L300.7,233.1 L298.3,231.8 L295.9,230.4 L293.5,229 L291.2,227.6 L288.9,226.2 L286.6,224.6 L284.3,223.1 L282,221.5 L279.8,219.9 L277.7,218.2M380.9,255.6 L378,255.8 L375.2,255.9 L372.3,256 L369.5,256 L366.6,256 L363.7,255.9 L360.9,255.7 L358,255.5 L355.2,255.3 L352.3,255 L349.5,254.6 L346.7,254.2 L343.8,253.8 L341,253.3 L338.2,252.7 L335.4,252.1 L332.7,251.5 L329.9,250.8 L327.1,250 L324.4,249.2 L321.7,248.3 L319,247.4 L316.3,246.5 L313.6,245.4 L310.9,244.4 L308.3,243.3 L305.7,242.1 L303.1,240.9 L300.5,239.7 L298,238.4 L295.4,237 L292.9,235.6 L290.5,234.2 L288,232.7 L285.6,231.2 L283.2,229.6 L280.9,228 L278.5,226.4 L276.2,224.7 L274,222.9" stroke-width="1.6"/>
<path class="bf" d="M398,261.8 L397,263.7 L395.9,265.6 L394.8,267.5 L393.6,269.3 L392.4,271.1 L391.2,272.9 L389.9,274.7 L388.6,276.4 L387.2,278.1 L385.8,279.7 L384.4,281.4 L382.9,283 L381.4,284.6 L379.9,286.1 L378.3,287.6 L376.7,289.1 L375.1,290.5 L373.4,291.9 L371.7,293.3 L370,294.6 L368.2,295.9 L366.5,297.2 L364.7,298.4 L362.8,299.6 L361,300.7 L359.1,301.8 L357.2,302.8 L355.3,303.8 L353.3,304.8 L351.3,305.7 L349.4,306.6 L347.3,307.4 L345.3,308.2 L343.3,309 L341.2,309.7 L339.1,310.3 L337.1,311 L335,311.5 L332.9,312 L330.7,312.5 L339.3,353 L342.3,352.3 L345.3,351.6 L348.3,350.8 L351.3,349.9 L354.2,349 L357.1,348 L360,346.9 L362.9,345.8 L365.7,344.6 L368.5,343.4 L371.3,342.1 L374.1,340.7 L376.8,339.3 L379.5,337.8 L382.1,336.3 L384.8,334.7 L387.4,333 L389.9,331.3 L392.4,329.5 L394.9,327.7 L397.4,325.8 L399.8,323.9 L402.1,321.9 L404.4,319.9 L406.7,317.8 L408.9,315.6 L411.1,313.5 L413.2,311.2 L415.3,309 L417.3,306.6 L419.3,304.3 L421.2,301.9 L423.1,299.4 L424.9,296.9 L426.6,294.4 L428.3,291.8 L430,289.2 L431.6,286.6 L433.1,283.9 L434.6,281.2 Z"/><path class="bl" d="M400.1,262.9 L399,264.8 L397.9,266.8 L396.7,268.7 L395.5,270.6 L394.3,272.4 L393,274.2 L391.7,276 L390.4,277.8 L389,279.5 L387.6,281.2 L386.1,282.9 L384.6,284.6 L383.1,286.2 L381.5,287.8 L379.9,289.3 L378.3,290.8 L376.6,292.3 L374.9,293.7 L373.1,295.1 L371.4,296.5 L369.6,297.8 L367.8,299.1 L365.9,300.3 L364.1,301.5 L362.2,302.7 L360.2,303.8 L358.3,304.9 L356.3,305.9 L354.3,306.9 L352.3,307.8 L350.3,308.7 L348.2,309.6 L346.1,310.4 L344,311.1 L341.9,311.9 L339.8,312.5 L337.7,313.2 L335.5,313.8 L333.4,314.3 L331.2,314.8M404.1,265 L403,267.1 L401.8,269.1 L400.6,271.1 L399.4,273.1 L398.1,275 L396.8,276.9 L395.4,278.8 L394,280.6 L392.6,282.4 L391.1,284.2 L389.5,286 L388,287.7 L386.4,289.4 L384.7,291 L383,292.6 L381.3,294.2 L379.6,295.8 L377.8,297.3 L376,298.7 L374.2,300.1 L372.3,301.5 L370.4,302.9 L368.4,304.1 L366.5,305.4 L364.5,306.6 L362.5,307.8 L360.5,308.9 L358.4,310 L356.3,311 L354.2,312 L352.1,312.9 L349.9,313.8 L347.8,314.7 L345.6,315.5 L343.4,316.2 L341.2,316.9 L338.9,317.6 L336.7,318.2 L334.4,318.8 L332.2,319.3M408.2,267.2 L407,269.3 L405.8,271.4 L404.6,273.5 L403.3,275.6 L401.9,277.6 L400.5,279.6 L399.1,281.5 L397.6,283.5 L396.1,285.4 L394.6,287.2 L393,289 L391.3,290.8 L389.7,292.6 L387.9,294.3 L386.2,296 L384.4,297.6 L382.6,299.2 L380.7,300.8 L378.8,302.3 L376.9,303.8 L375,305.2 L373,306.6 L371,308 L368.9,309.3 L366.9,310.6 L364.8,311.8 L362.6,313 L360.5,314.1 L358.3,315.2 L356.1,316.2 L353.9,317.2 L351.7,318.1 L349.4,319 L347.1,319.8 L344.8,320.6 L342.5,321.3 L340.2,322 L337.8,322.7 L335.5,323.2 L333.1,323.8M412.2,269.4 L411,271.6 L409.8,273.8 L408.5,275.9 L407.1,278.1 L405.7,280.2 L404.3,282.2 L402.8,284.3 L401.3,286.3 L399.7,288.3 L398.1,290.2 L396.4,292.1 L394.7,294 L392.9,295.8 L391.2,297.6 L389.3,299.3 L387.5,301.1 L385.6,302.7 L383.7,304.4 L381.7,305.9 L379.7,307.5 L377.7,309 L375.6,310.4 L373.5,311.8 L371.4,313.2 L369.2,314.5 L367,315.8 L364.8,317 L362.6,318.2 L360.3,319.3 L358,320.4 L355.7,321.4 L353.4,322.4 L351,323.3 L348.7,324.2 L346.3,325 L343.9,325.7 L341.4,326.5 L339,327.1 L336.5,327.7 L334.1,328.3M416.3,271.5 L415,273.8 L413.7,276.1 L412.4,278.4 L411,280.6 L409.5,282.8 L408,284.9 L406.5,287 L404.9,289.1 L403.2,291.2 L401.6,293.2 L399.8,295.2 L398.1,297.1 L396.2,299 L394.4,300.9 L392.5,302.7 L390.6,304.5 L388.6,306.2 L386.6,307.9 L384.5,309.6 L382.5,311.2 L380.3,312.7 L378.2,314.2 L376,315.7 L373.8,317.1 L371.6,318.5 L369.3,319.8 L367,321.1 L364.7,322.3 L362.3,323.4 L359.9,324.6 L357.5,325.6 L355.1,326.6 L352.7,327.6 L350.2,328.5 L347.7,329.3 L345.2,330.1 L342.7,330.9 L340.1,331.6 L337.6,332.2 L335,332.8M420.4,273.7 L419.1,276.1 L417.7,278.4 L416.3,280.8 L414.8,283.1 L413.3,285.4 L411.8,287.6 L410.2,289.8 L408.5,292 L406.8,294.1 L405.1,296.2 L403.3,298.2 L401.4,300.2 L399.5,302.2 L397.6,304.2 L395.6,306 L393.6,307.9 L391.6,309.7 L389.5,311.5 L387.4,313.2 L385.2,314.8 L383,316.4 L380.8,318 L378.5,319.5 L376.2,321 L373.9,322.4 L371.6,323.8 L369.2,325.1 L366.7,326.4 L364.3,327.6 L361.8,328.7 L359.3,329.8 L356.8,330.9 L354.3,331.9 L351.7,332.8 L349.1,333.7 L346.5,334.5 L343.9,335.3 L341.3,336 L338.7,336.7 L336,337.3M424.4,275.8 L423.1,278.3 L421.7,280.8 L420.2,283.2 L418.7,285.6 L417.1,287.9 L415.5,290.3 L413.8,292.5 L412.1,294.8 L410.4,297 L408.5,299.2 L406.7,301.3 L404.8,303.4 L402.8,305.4 L400.8,307.4 L398.8,309.4 L396.7,311.3 L394.6,313.2 L392.4,315 L390.2,316.8 L388,318.5 L385.7,320.2 L383.4,321.8 L381.1,323.4 L378.7,324.9 L376.3,326.4 L373.8,327.8 L371.3,329.2 L368.8,330.5 L366.3,331.7 L363.7,332.9 L361.2,334.1 L358.5,335.2 L355.9,336.2 L353.3,337.2 L350.6,338.1 L347.9,338.9 L345.2,339.7 L342.4,340.5 L339.7,341.1 L336.9,341.8M428.5,278 L427.1,280.6 L425.6,283.1 L424.1,285.6 L422.5,288.1 L420.9,290.5 L419.3,292.9 L417.5,295.3 L415.8,297.6 L413.9,299.9 L412,302.2 L410.1,304.4 L408.1,306.5 L406.1,308.6 L404.1,310.7 L402,312.7 L399.8,314.7 L397.6,316.7 L395.4,318.6 L393.1,320.4 L390.8,322.2 L388.4,323.9 L386,325.6 L383.6,327.2 L381.1,328.8 L378.6,330.3 L376.1,331.8 L373.5,333.2 L370.9,334.6 L368.3,335.9 L365.7,337.1 L363,338.3 L360.3,339.4 L357.5,340.5 L354.8,341.5 L352,342.4 L349.2,343.3 L346.4,344.2 L343.6,344.9 L340.8,345.6 L337.9,346.3M432.6,280.2 L431.1,282.8 L429.6,285.4 L428,288 L426.4,290.6 L424.7,293.1 L423,295.6 L421.2,298 L419.4,300.5 L417.5,302.8 L415.5,305.1 L413.6,307.4 L411.5,309.7 L409.4,311.9 L407.3,314 L405.1,316.1 L402.9,318.1 L400.6,320.2 L398.3,322.1 L395.9,324 L393.5,325.9 L391.1,327.6 L388.6,329.4 L386.1,331.1 L383.6,332.7 L381,334.3 L378.3,335.8 L375.7,337.3 L373,338.7 L370.3,340 L367.6,341.3 L364.8,342.5 L362,343.7 L359.2,344.8 L356.3,345.8 L353.5,346.8 L350.6,347.7 L347.7,348.6 L344.8,349.4 L341.8,350.1 L338.9,350.8" stroke-width="1.6"/>
<path class="bf" d="M374.5,220.6 L374.3,222.6 L374,224.6 L373.7,226.5 L373.3,228.5 L372.9,230.4 L372.4,232.3 L371.8,234.2 L371.2,236.1 L370.6,237.9 L369.8,239.8 L369,241.6 L368.2,243.4 L367.3,245.1 L366.4,246.9 L365.4,248.6 L364.3,250.3 L363.2,251.9 L362,253.5 L360.8,255.1 L359.6,256.6 L358.3,258.1 L357,259.6 L355.6,261 L354.2,262.4 L352.7,263.7 L351.2,265 L349.6,266.2 L348.1,267.4 L346.4,268.5 L344.8,269.6 L343.1,270.6 L341.4,271.6 L339.6,272.6 L337.9,273.4 L336.1,274.3 L334.3,275 L332.4,275.7 L330.5,276.4 L328.7,277 L326.8,277.5 L336.1,312.3 L339,311.5 L342,310.5 L344.9,309.5 L347.7,308.4 L350.6,307.2 L353.4,305.9 L356.1,304.6 L358.8,303.1 L361.5,301.6 L364.1,300 L366.7,298.3 L369.2,296.5 L371.7,294.7 L374.1,292.7 L376.4,290.7 L378.7,288.7 L380.9,286.6 L383.1,284.4 L385.2,282.1 L387.2,279.8 L389.1,277.4 L391,274.9 L392.8,272.4 L394.5,269.9 L396.1,267.3 L397.7,264.6 L399.2,261.9 L400.6,259.2 L401.9,256.4 L403.1,253.6 L404.2,250.7 L405.3,247.8 L406.2,244.9 L407.1,241.9 L407.9,238.9 L408.5,235.9 L409.1,232.9 L409.6,229.9 L410.1,226.8 L410.4,223.8 Z"/><path class="bl" d="M376.7,220.8 L376.5,222.9 L376.3,224.9 L375.9,226.9 L375.5,228.9 L375.1,230.9 L374.6,232.9 L374,234.9 L373.3,236.8 L372.7,238.7 L371.9,240.6 L371.1,242.5 L370.2,244.4 L369.3,246.2 L368.3,248 L367.3,249.8 L366.2,251.5 L365.1,253.2 L363.9,254.9 L362.6,256.5 L361.3,258.1 L360,259.6 L358.6,261.1 L357.2,262.6 L355.7,264 L354.2,265.4 L352.6,266.7 L351,268 L349.4,269.2 L347.7,270.4 L346,271.5 L344.3,272.6 L342.5,273.6 L340.7,274.6 L338.8,275.5 L337,276.3 L335.1,277.1 L333.2,277.9 L331.3,278.5 L329.3,279.2 L327.3,279.7M381.2,221.2 L381,223.4 L380.7,225.6 L380.4,227.7 L379.9,229.9 L379.5,232 L378.9,234.1 L378.3,236.2 L377.6,238.3 L376.9,240.3 L376.1,242.4 L375.2,244.4 L374.3,246.3 L373.3,248.3 L372.2,250.2 L371.1,252.1 L370,253.9 L368.7,255.8 L367.5,257.5 L366.2,259.3 L364.8,261 L363.3,262.6 L361.9,264.2 L360.3,265.8 L358.8,267.3 L357.1,268.8 L355.5,270.2 L353.8,271.5 L352,272.8 L350.2,274.1 L348.4,275.3 L346.6,276.4 L344.7,277.5 L342.7,278.6 L340.8,279.5 L338.8,280.4 L336.8,281.3 L334.7,282.1 L332.7,282.8 L330.6,283.5 L328.5,284.1M385.7,221.6 L385.5,223.9 L385.2,226.2 L384.8,228.5 L384.3,230.8 L383.8,233.1 L383.2,235.3 L382.6,237.5 L381.9,239.7 L381.1,241.9 L380.2,244.1 L379.3,246.2 L378.3,248.3 L377.3,250.4 L376.1,252.4 L375,254.4 L373.7,256.4 L372.4,258.3 L371.1,260.2 L369.7,262.1 L368.2,263.9 L366.7,265.6 L365.1,267.3 L363.5,269 L361.8,270.6 L360.1,272.1 L358.3,273.6 L356.5,275.1 L354.7,276.5 L352.8,277.8 L350.8,279.1 L348.9,280.3 L346.8,281.5 L344.8,282.6 L342.7,283.6 L340.6,284.6 L338.5,285.5 L336.3,286.3 L334.1,287.1 L331.9,287.8 L329.7,288.4M390.2,222 L389.9,224.5 L389.6,226.9 L389.2,229.3 L388.7,231.7 L388.2,234.1 L387.6,236.5 L386.9,238.9 L386.1,241.2 L385.3,243.5 L384.4,245.8 L383.4,248.1 L382.4,250.3 L381.2,252.5 L380.1,254.6 L378.8,256.8 L377.5,258.8 L376.1,260.9 L374.7,262.9 L373.2,264.8 L371.7,266.7 L370.1,268.6 L368.4,270.4 L366.7,272.2 L364.9,273.9 L363.1,275.5 L361.2,277.1 L359.3,278.7 L357.3,280.1 L355.3,281.5 L353.3,282.9 L351.2,284.2 L349,285.4 L346.9,286.6 L344.7,287.7 L342.4,288.7 L340.2,289.6 L337.9,290.5 L335.5,291.3 L333.2,292.1 L330.8,292.8M394.7,222.4 L394.4,225 L394.1,227.6 L393.6,230.1 L393.1,232.7 L392.6,235.2 L391.9,237.7 L391.2,240.2 L390.4,242.7 L389.5,245.1 L388.5,247.5 L387.5,249.9 L386.4,252.3 L385.2,254.6 L384,256.9 L382.7,259.1 L381.3,261.3 L379.8,263.4 L378.3,265.6 L376.8,267.6 L375.1,269.6 L373.4,271.6 L371.7,273.5 L369.8,275.4 L368,277.2 L366,278.9 L364.1,280.6 L362,282.2 L360,283.8 L357.8,285.3 L355.7,286.7 L353.5,288 L351.2,289.3 L348.9,290.6 L346.6,291.7 L344.2,292.8 L341.8,293.8 L339.4,294.7 L337,295.6 L334.5,296.4 L332,297.1M399.2,222.8 L398.9,225.5 L398.5,228.2 L398.1,230.9 L397.5,233.6 L396.9,236.3 L396.2,238.9 L395.5,241.5 L394.6,244.1 L393.7,246.7 L392.7,249.3 L391.6,251.8 L390.4,254.2 L389.2,256.7 L387.9,259.1 L386.5,261.4 L385.1,263.7 L383.5,266 L381.9,268.2 L380.3,270.4 L378.6,272.5 L376.8,274.6 L374.9,276.6 L373,278.6 L371,280.5 L369,282.3 L366.9,284.1 L364.8,285.8 L362.6,287.4 L360.4,289 L358.1,290.5 L355.8,291.9 L353.4,293.3 L351,294.6 L348.5,295.8 L346,296.9 L343.5,298 L341,299 L338.4,299.9 L335.8,300.7 L333.2,301.5M403.6,223.2 L403.3,226 L403,228.9 L402.5,231.7 L401.9,234.5 L401.3,237.3 L400.6,240.1 L399.8,242.9 L398.9,245.6 L397.9,248.3 L396.8,251 L395.7,253.6 L394.5,256.2 L393.2,258.8 L391.8,261.3 L390.4,263.8 L388.8,266.2 L387.2,268.6 L385.6,270.9 L383.8,273.2 L382,275.4 L380.1,277.6 L378.2,279.7 L376.2,281.8 L374.1,283.7 L372,285.7 L369.8,287.5 L367.5,289.3 L365.3,291 L362.9,292.7 L360.5,294.3 L358.1,295.8 L355.6,297.2 L353,298.6 L350.5,299.8 L347.9,301 L345.2,302.2 L342.5,303.2 L339.8,304.1 L337.1,305 L334.3,305.8M408.1,223.6 L407.8,226.6 L407.4,229.6 L406.9,232.5 L406.3,235.5 L405.7,238.4 L404.9,241.3 L404.1,244.2 L403.1,247.1 L402.1,249.9 L401,252.7 L399.8,255.5 L398.5,258.2 L397.2,260.9 L395.7,263.5 L394.2,266.1 L392.6,268.6 L390.9,271.1 L389.2,273.6 L387.4,276 L385.5,278.3 L383.5,280.6 L381.4,282.8 L379.3,285 L377.2,287 L374.9,289.1 L372.7,291 L370.3,292.9 L367.9,294.7 L365.4,296.4 L362.9,298.1 L360.4,299.7 L357.8,301.2 L355.1,302.6 L352.4,303.9 L349.7,305.2 L346.9,306.3 L344.1,307.4 L341.3,308.4 L338.4,309.3 L335.5,310.1" stroke-width="1.6"/>
<path class="bf" d="M346.5,256 L346.3,258.9 L346.1,261.9 L346,264.8 L345.8,267.8 L345.6,270.8 L345.5,273.8 L345.3,276.8 L345.1,279.7 L345,282.6 L344.8,285.5 L344.6,288.3 L344.5,291.1 L344.3,293.8 L344.1,296.4 L344,299 L343.8,301.5 L343.6,304 L343.5,306.5 L343.3,308.9 L343.1,311.4 L343,313.8 L342.8,316.2 L342.6,318.7 L342.5,321.2 L307.5,318.8 L307.7,316.3 L307.9,313.9 L308,311.4 L308.2,309 L308.4,306.6 L308.5,304.1 L308.7,301.7 L308.9,299.2 L309,296.7 L309.2,294.2 L309.4,291.6 L309.5,288.9 L309.7,286.2 L309.9,283.4 L310,280.6 L310.2,277.7 L310.4,274.8 L310.5,271.8 L310.7,268.9 L310.9,265.9 L311,262.9 L311.2,259.9 L311.4,256.9 L311.5,254 Z"/><path class="bl" d="M344,255.9 L343.8,258.8 L343.6,261.7 L343.5,264.7 L343.3,267.7 L343.1,270.7 L343,273.7 L342.8,276.6 L342.6,279.6 L342.5,282.5 L342.3,285.3 L342.1,288.2 L342,290.9 L341.8,293.6 L341.6,296.3 L341.5,298.8 L341.3,301.4 L341.1,303.9 L341,306.3 L340.8,308.8 L340.6,311.2 L340.5,313.6 L340.3,316.1 L340.1,318.5 L340,321M339,255.6 L338.8,258.5 L338.7,261.5 L338.5,264.4 L338.3,267.4 L338.2,270.4 L338,273.4 L337.8,276.3 L337.7,279.3 L337.5,282.2 L337.3,285 L337.1,287.9 L337,290.6 L336.8,293.3 L336.6,295.9 L336.5,298.5 L336.3,301 L336.1,303.5 L336,306 L335.8,308.4 L335.6,310.9 L335.5,313.3 L335.3,315.7 L335.1,318.2 L335,320.7M334,255.3 L333.8,258.2 L333.7,261.2 L333.5,264.1 L333.3,267.1 L333.2,270.1 L333,273.1 L332.8,276.1 L332.7,279 L332.5,281.9 L332.3,284.8 L332.2,287.6 L332,290.3 L331.8,293 L331.7,295.6 L331.5,298.2 L331.3,300.7 L331.2,303.2 L331,305.7 L330.8,308.1 L330.7,310.5 L330.5,313 L330.3,315.4 L330.2,317.9 L330,320.3M329,255 L328.8,257.9 L328.7,260.9 L328.5,263.9 L328.3,266.9 L328.2,269.8 L328,272.8 L327.8,275.8 L327.7,278.7 L327.5,281.6 L327.3,284.5 L327.2,287.3 L327,290 L326.8,292.7 L326.7,295.3 L326.5,297.9 L326.3,300.4 L326.2,302.9 L326,305.3 L325.8,307.8 L325.7,310.2 L325.5,312.6 L325.3,315.1 L325.2,317.5 L325,320M324,254.7 L323.8,257.7 L323.7,260.6 L323.5,263.6 L323.3,266.6 L323.2,269.6 L323,272.5 L322.8,275.5 L322.7,278.4 L322.5,281.3 L322.3,284.2 L322.2,287 L322,289.7 L321.8,292.4 L321.7,295 L321.5,297.5 L321.3,300 L321.2,302.5 L321,305 L320.8,307.4 L320.7,309.8 L320.5,312.3 L320.3,314.7 L320.2,317.2 L320,319.7M319,254.4 L318.8,257.4 L318.7,260.3 L318.5,263.3 L318.3,266.3 L318.2,269.3 L318,272.3 L317.8,275.2 L317.7,278.1 L317.5,281 L317.4,283.9 L317.2,286.7 L317,289.4 L316.9,292 L316.7,294.6 L316.5,297.2 L316.4,299.7 L316.2,302.2 L316,304.6 L315.9,307.1 L315.7,309.5 L315.5,311.9 L315.4,314.4 L315.2,316.8 L315,319.3M314,254.1 L313.9,257.1 L313.7,260.1 L313.5,263 L313.4,266 L313.2,269 L313,272 L312.9,274.9 L312.7,277.8 L312.5,280.7 L312.4,283.6 L312.2,286.4 L312,289.1 L311.9,291.7 L311.7,294.3 L311.5,296.9 L311.4,299.4 L311.2,301.8 L311,304.3 L310.9,306.7 L310.7,309.2 L310.5,311.6 L310.4,314 L310.2,316.5 L310,319" stroke-width="1.6"/>
<path class="bf" d="M327.1,275.5 L325.4,277.7 L323.7,279.9 L322,282.1 L320.3,284.3 L318.5,286.5 L316.8,288.7 L315.2,290.8 L313.5,293 L311.9,295.1 L310.3,297.2 L308.8,299.2 L307.3,301.3 L305.9,303.3 L304.5,305.2 L303.2,307.2 L301.9,309.1 L300.6,311.1 L299.3,313 L298,315 L296.7,317 L295.5,318.9 L294.2,320.9 L292.8,323 L291.5,325 L276.5,315 L277.8,313.1 L279.1,311.1 L280.4,309.1 L281.6,307.2 L282.9,305.2 L284.2,303.2 L285.5,301.2 L286.9,299.2 L288.3,297.1 L289.7,295 L291.2,292.9 L292.7,290.7 L294.3,288.6 L295.9,286.4 L297.6,284.2 L299.2,282 L300.9,279.8 L302.7,277.6 L304.4,275.4 L306.1,273.2 L307.8,271 L309.5,268.8 L311.2,266.7 L312.9,264.5 Z"/><path class="bl" d="M324.7,273.7 L323.1,275.9 L321.3,278 L319.6,280.2 L317.9,282.4 L316.2,284.6 L314.5,286.8 L312.8,289 L311.1,291.1 L309.5,293.3 L307.9,295.4 L306.4,297.5 L304.9,299.5 L303.4,301.5 L302,303.5 L300.7,305.5 L299.4,307.5 L298.1,309.4 L296.8,311.4 L295.5,313.4 L294.2,315.3 L292.9,317.3 L291.6,319.3 L290.3,321.3 L289,323.3M320,270 L318.3,272.2 L316.6,274.4 L314.9,276.5 L313.2,278.7 L311.5,280.9 L309.8,283.1 L308,285.3 L306.4,287.5 L304.7,289.6 L303.1,291.8 L301.5,293.9 L300,296 L298.5,298.1 L297.1,300.1 L295.7,302.1 L294.4,304.1 L293,306.1 L291.8,308.1 L290.5,310.1 L289.2,312.1 L287.9,314 L286.6,316 L285.3,318 L284,320M315.3,266.3 L313.6,268.5 L311.9,270.7 L310.2,272.8 L308.5,275 L306.7,277.2 L305,279.4 L303.3,281.6 L301.6,283.8 L299.9,286 L298.3,288.2 L296.7,290.3 L295.1,292.5 L293.6,294.6 L292.2,296.7 L290.8,298.8 L289.4,300.8 L288,302.8 L286.7,304.8 L285.4,306.8 L284.2,308.8 L282.9,310.8 L281.6,312.7 L280.3,314.7 L279,316.7" stroke-width="1.6"/>
<path class="bf" d="M250.8,232.5 L252.3,233.1 L253.9,233.8 L255.3,234.4 L256.6,235 L257.8,235.5 L258.9,236 L260.1,236.5 L261.2,236.9 L262.5,237.4 L263.9,237.9 L265.6,238.5 L267.6,239.1 L269.9,239.8 L272.5,240.6 L275.3,241.4 L278.1,242.3 L281.1,243.1 L284.1,244 L287.2,244.8 L290.3,245.6 L293.4,246.3 L296.5,247 L299.5,247.6 L302.3,248.1 L305.2,248.5 L308.2,248.8 L311.3,249.1 L314.6,249.3 L317.9,249.5 L321.3,249.6 L324.8,249.7 L328.3,249.8 L331.9,249.9 L335.5,250.1 L339.2,250.2 L342.8,250.4 L341.2,281.6 L337.7,281.4 L334.3,281.3 L330.9,281.1 L327.3,281 L323.7,280.9 L320.1,280.8 L316.4,280.6 L312.7,280.4 L309,280.2 L305.2,279.8 L301.4,279.4 L297.7,278.9 L293.9,278.3 L290.2,277.6 L286.5,276.8 L282.9,275.9 L279.3,275 L275.9,274.1 L272.5,273.1 L269.3,272.2 L266.3,271.3 L263.5,270.4 L260.9,269.7 L258.4,268.9 L256.1,268.2 L253.9,267.4 L251.8,266.7 L250,266 L248.2,265.3 L246.7,264.7 L245.3,264.1 L244,263.5 L242.8,263 L241.7,262.5 L240.5,262 L239.2,261.5 Z"/><path class="bl" d="M250.1,234.3 L251.6,234.9 L253.1,235.6 L254.5,236.2 L255.8,236.8 L257,237.3 L258.2,237.8 L259.3,238.3 L260.5,238.8 L261.8,239.3 L263.3,239.8 L265,240.3 L267,240.9 L269.4,241.7 L272,242.5 L274.7,243.3 L277.6,244.1 L280.6,245 L283.6,245.9 L286.7,246.7 L289.9,247.5 L293,248.2 L296.1,248.9 L299.1,249.5 L302,250 L305,250.4 L308,250.7 L311.2,251 L314.4,251.2 L317.8,251.4 L321.2,251.5 L324.7,251.7 L328.2,251.8 L331.8,251.9 L335.5,252 L339.1,252.2 L342.7,252.4M248.6,237.9 L250.1,238.6 L251.6,239.2 L253,239.8 L254.2,240.3 L255.5,240.9 L256.6,241.4 L257.8,241.9 L259.1,242.4 L260.5,242.9 L262.1,243.5 L263.8,244 L265.9,244.7 L268.2,245.4 L270.8,246.2 L273.6,247 L276.5,247.9 L279.5,248.8 L282.6,249.6 L285.7,250.5 L288.9,251.3 L292.1,252.1 L295.3,252.7 L298.4,253.4 L301.5,253.9 L304.5,254.3 L307.7,254.6 L310.9,254.9 L314.2,255.1 L317.6,255.3 L321.1,255.4 L324.6,255.6 L328.1,255.7 L331.7,255.8 L335.3,255.9 L338.9,256.1 L342.5,256.3M247.2,241.6 L248.7,242.2 L250.1,242.8 L251.4,243.3 L252.7,243.9 L253.9,244.4 L255.1,245 L256.4,245.5 L257.7,246 L259.2,246.6 L260.8,247.2 L262.6,247.8 L264.7,248.4 L267.1,249.1 L269.7,249.9 L272.5,250.8 L275.4,251.6 L278.4,252.5 L281.6,253.4 L284.8,254.3 L288,255.1 L291.3,255.9 L294.5,256.6 L297.7,257.2 L300.9,257.7 L304,258.1 L307.3,258.5 L310.6,258.8 L314,259 L317.4,259.2 L320.9,259.3 L324.4,259.5 L328,259.6 L331.6,259.7 L335.2,259.8 L338.8,260 L342.3,260.2M245.7,245.2 L247.2,245.8 L248.5,246.3 L249.8,246.9 L251.1,247.5 L252.3,248 L253.6,248.6 L254.9,249.1 L256.3,249.7 L257.8,250.2 L259.5,250.8 L261.4,251.5 L263.6,252.1 L266,252.9 L268.6,253.7 L271.4,254.5 L274.3,255.4 L277.4,256.3 L280.5,257.2 L283.8,258 L287.1,258.9 L290.4,259.7 L293.7,260.4 L297,261 L300.3,261.6 L303.6,262 L306.9,262.4 L310.3,262.7 L313.7,262.9 L317.2,263.1 L320.8,263.2 L324.3,263.4 L327.9,263.5 L331.4,263.6 L335,263.7 L338.6,263.9 L342.1,264.1M244.3,248.8 L245.7,249.4 L247,249.9 L248.3,250.5 L249.5,251 L250.8,251.6 L252,252.1 L253.4,252.7 L254.9,253.3 L256.5,253.9 L258.3,254.5 L260.2,255.2 L262.4,255.9 L264.8,256.6 L267.4,257.4 L270.2,258.2 L273.2,259.1 L276.3,260 L279.5,260.9 L282.8,261.8 L286.1,262.7 L289.5,263.5 L292.9,264.2 L296.3,264.9 L299.7,265.4 L303.1,265.9 L306.5,266.3 L310,266.6 L313.5,266.8 L317.1,267 L320.6,267.1 L324.2,267.3 L327.8,267.4 L331.3,267.5 L334.9,267.6 L338.4,267.8 L341.9,267.9M242.8,252.4 L244.2,253 L245.5,253.5 L246.7,254 L247.9,254.6 L249.2,255.1 L250.5,255.7 L251.9,256.3 L253.5,256.9 L255.2,257.6 L257,258.2 L259.1,258.9 L261.3,259.6 L263.7,260.3 L266.3,261.1 L269.1,262 L272.1,262.9 L275.2,263.8 L278.4,264.7 L281.8,265.6 L285.2,266.4 L288.7,267.3 L292.1,268 L295.6,268.7 L299.1,269.3 L302.6,269.8 L306.1,270.1 L309.7,270.5 L313.3,270.7 L316.9,270.9 L320.5,271 L324.1,271.2 L327.6,271.3 L331.2,271.4 L334.7,271.5 L338.2,271.7 L341.7,271.8M241.4,256.1 L242.7,256.6 L244,257.1 L245.1,257.6 L246.4,258.2 L247.6,258.7 L249,259.3 L250.5,259.9 L252.1,260.6 L253.8,261.2 L255.7,261.9 L257.9,262.6 L260.1,263.3 L262.6,264.1 L265.2,264.8 L268,265.7 L271,266.6 L274.1,267.5 L277.4,268.4 L280.8,269.3 L284.3,270.2 L287.8,271.1 L291.4,271.8 L294.9,272.5 L298.5,273.1 L302.1,273.6 L305.8,274 L309.4,274.3 L313,274.6 L316.7,274.8 L320.3,274.9 L323.9,275.1 L327.5,275.2 L331.1,275.3 L334.6,275.4 L338,275.6 L341.5,275.7M239.9,259.7 L241.3,260.2 L242.4,260.7 L243.6,261.2 L244.8,261.7 L246.1,262.3 L247.5,262.9 L249,263.5 L250.7,264.2 L252.5,264.9 L254.5,265.6 L256.7,266.3 L259,267.1 L261.4,267.8 L264,268.6 L266.9,269.4 L269.9,270.3 L273.1,271.3 L276.4,272.2 L279.8,273.1 L283.3,274 L286.9,274.9 L290.6,275.7 L294.3,276.4 L298,277 L301.7,277.5 L305.4,277.9 L309.1,278.2 L312.8,278.5 L316.5,278.7 L320.2,278.8 L323.8,279 L327.4,279.1 L330.9,279.2 L334.4,279.3 L337.8,279.4 L341.3,279.6" stroke-width="1.6"/></g>
<path d="M189.4,116 C188.5,111 191,107.5 195.4,107 L195.4,107 C202.8,109.1 228.4,116.7 240,119.8 C251.6,122.9 255,124.1 265,125.7 C275,127.3 290.8,128.8 300,129.2 C309.2,129.6 312.5,128.9 320,128 C327.5,127.1 338.2,125.4 345,123.6 C351.8,121.8 357.6,118.2 361,117.2 C364.4,116.2 364.2,116.8 365.5,117.5 C366.8,118.2 366.6,115.6 368.5,121.5 C370.4,127.4 373.2,141.5 376.6,153 C380,164.5 383.7,176.1 388.6,190.6 C393.5,205.1 399.4,221.4 406,240 C412.6,258.6 423.4,290.5 428,302 C432.6,313.5 433,307.2 433.5,309 C434,310.8 431.4,312.3 431,313 L288,313" stroke-width="1.5"/>
<path d="M189.4,116 C189.7,117.2 189.5,118.4 191,123 C192.5,127.6 195.8,133.1 198.6,143.6 C201.4,154.1 205.1,172.3 208,186 C210.9,199.7 214.7,219.3 216,226" stroke-width="1.6"/>
<path d="M75,66.5 L75,206" stroke-width="1.4"/>
<path d="M416,59 L416,115" stroke-width="1.4"/>
<path d="M75,73.4 L416,66.6" stroke-width="1.4"/>
<path class="ah" d="M75,73.4 L90.9,70.1 L91.1,76.1 Z"/>
<path class="ah" d="M416,66.6 L400.1,69.9 L399.9,63.9 Z"/>
<path d="M194,87 L194,106" stroke-width="1.4"/>
<path d="M368,89 L368,107" stroke-width="1.4"/>
<path d="M194,95.5 L368,96" stroke-width="1.4"/>
<path class="ah" d="M194,95.5 L210,92.5 L210,98.5 Z"/>
<path class="ah" d="M368,96 L352,99 L352,93 Z"/>
<path d="M17,113 L141,113" stroke-width="1.4"/>
<path d="M30,113 L30,488" stroke-width="1.4"/>
<path class="ah" d="M30,113 L33,129 L27,129 Z"/>
<path class="ah" d="M30,488 L27,472 L33,472 Z"/>
<path d="M75,171.6 L159.4,171.6" stroke-width="1.4"/>
<path class="ah" d="M75,171.6 L91,168.6 L91,174.6 Z"/>
<path class="ah" d="M159.4,171.6 L143.4,174.6 L143.4,168.6 Z"/>
<path d="M159.4,163 L159.4,200" stroke-width="1.4"/>
<path d="M75,171.6 L175.6,222" stroke-width="1.4"/>
<path class="ah" d="M75,171.6 L90.6,176.1 L88,181.4 Z"/>
<path class="ah" d="M175.6,222 L160,217.5 L162.6,212.2 Z"/>
<path d="M175.6,214 L175.6,257" stroke-width="1.4"/>
<path d="M46,196 L86,187.6" stroke-width="1.4"/>
<path d="M53,196 L53,483" stroke-width="1.4"/>
<path class="ah" d="M53,196 L56,212 L50,212 Z"/>
<path class="ah" d="M53,483 L50,467 L56,467 Z"/>
<path d="M22,490 L74,479.4" stroke-width="1.4"/>
<path d="M30,488 L144.6,632" stroke-width="1.4"/>
<path class="ah" d="M30,488 L42.3,498.7 L37.6,502.4 Z"/>
<path class="ah" d="M144.6,632 L132.3,621.3 L137,617.6 Z"/>
<path d="M135,634.3 L189,625" stroke-width="1.4"/>
<path d="M188,200 L229,244" stroke-width="1.4"/>
<path d="M250,266 L289,307" stroke-width="1.4"/>
<path class="ah" d="M188,200 L201.2,209.6 L196.8,213.7 Z"/>
<path class="ah" d="M289,307 L275.8,297.4 L280.2,293.3 Z"/>
<path d="M187.5,200.5 L193.5,194.5" stroke-width="1.4"/>
<path d="M367.5,112.5 L391,105" stroke-width="1.4"/>
<path d="M385.5,107.5 L452,306.8" stroke-width="1.4"/>
<path class="ah" d="M385.5,107.5 L393.4,121.7 L387.7,123.6 Z"/>
<path class="ah" d="M452,306.8 L444.1,292.6 L449.8,290.7 Z"/>
<path d="M434,312 L459.6,304.6" stroke-width="1.4"/>
<path d="M388,276.5 L489.6,297" stroke-width="1.4"/>
<path class="ah" d="M388,276.5 L404.3,276.7 L403.1,282.6 Z"/>
<path class="ah" d="M489.6,297 L473.3,296.8 L474.5,290.9 Z"/>
<path d="M387,269 L387,298" stroke-width="1.4"/>
<path d="M489.6,289.6 L489.6,325" stroke-width="1.4"/>
<path d="M292,365 L546.4,337.9" stroke-width="1.4"/>
<path class="ah" d="M292,365 L307.6,360.3 L308.2,366.3 Z"/>
<path class="ah" d="M546.4,337.9 L530.8,342.6 L530.2,336.6 Z"/>
<path d="M289,340 L292,372" stroke-width="1.4"/>
<path d="M544.3,312.1 L547.5,343.2" stroke-width="1.4"/>
<path d="M491.8,330.4 L529.3,349.6" stroke-width="1.4"/>
<path d="M522.4,346.4 L514.6,584.6" stroke-width="1.4"/>
<path class="ah" d="M522.4,346.4 L524.9,362.5 L518.9,362.3 Z"/>
<path class="ah" d="M514.6,584.6 L512.1,568.5 L518.1,568.7 Z"/>
<path d="M483.7,569.3 L521.4,589.1" stroke-width="1.4"/>
<path d="M641.4,233 L667,233" stroke-width="1.4"/>
<path d="M643,530 L666.5,530" stroke-width="1.4"/>
<path d="M660,233 L660,530" stroke-width="1.4"/>
<path class="ah" d="M660,233 L663,249 L657,249 Z"/>
<path class="ah" d="M660,530 L657,514 L663,514 Z"/>
<path d="M240,563.4 L240,640" stroke-width="1.4"/>
<path class="ah" d="M240,594.3 L237,578.3 L243,578.3 Z"/>
<path class="ah" d="M240,608 L243,624 L237,624 Z"/>

<rect x="225.6" y="60.1" width="39.7" height="20.7" fill="#fff"/>
<text x="245.5" y="78.7" font-size="23">42&quot;</text>
<rect x="261.1" y="85.2" width="39.7" height="20.7" fill="#fff"/>
<text x="281" y="103.7" font-size="23">20&quot;</text>
<rect x="10.6" y="290.6" width="39.7" height="20.7" fill="#fff"/>
<text x="30.5" y="309.2" font-size="23">33&quot;</text>
<text x="112" y="137.2" font-size="23">8.5&quot;</text>
<text x="124.5" y="236.2" font-size="23">26.5&quot;</text>
<rect x="33.6" y="328.6" width="39.7" height="20.7" fill="#fff"/>
<text x="53.5" y="347.2" font-size="23">28&quot;</text>
<rect x="68.7" y="550.2" width="39.7" height="20.7" fill="#fff"/>
<text x="88.6" y="568.8" font-size="23">37&quot;</text>
<text x="240.5" y="264.2" font-size="23">12&quot;</text>
<rect x="400.1" y="196.7" width="39.7" height="20.7" fill="#fff"/>
<text x="420" y="215.2" font-size="23">20&quot;</text>
<text x="465" y="285" font-size="23">18&quot;</text>
<rect x="399.1" y="342.1" width="39.7" height="20.7" fill="#fff"/>
<text x="419" y="360.7" font-size="23">24&quot;</text>
<rect x="488.5" y="456.1" width="58.9" height="20.7" fill="#fff"/>
<text x="518" y="474.7" font-size="23">18.5&quot;</text>
<rect x="631" y="372.1" width="58.9" height="20.7" fill="#fff"/>
<text x="660.5" y="390.7" font-size="23">26.5&quot;</text>
<text x="265.7" y="611.6" font-size="23">2&quot;</text>
</svg></body></html>
